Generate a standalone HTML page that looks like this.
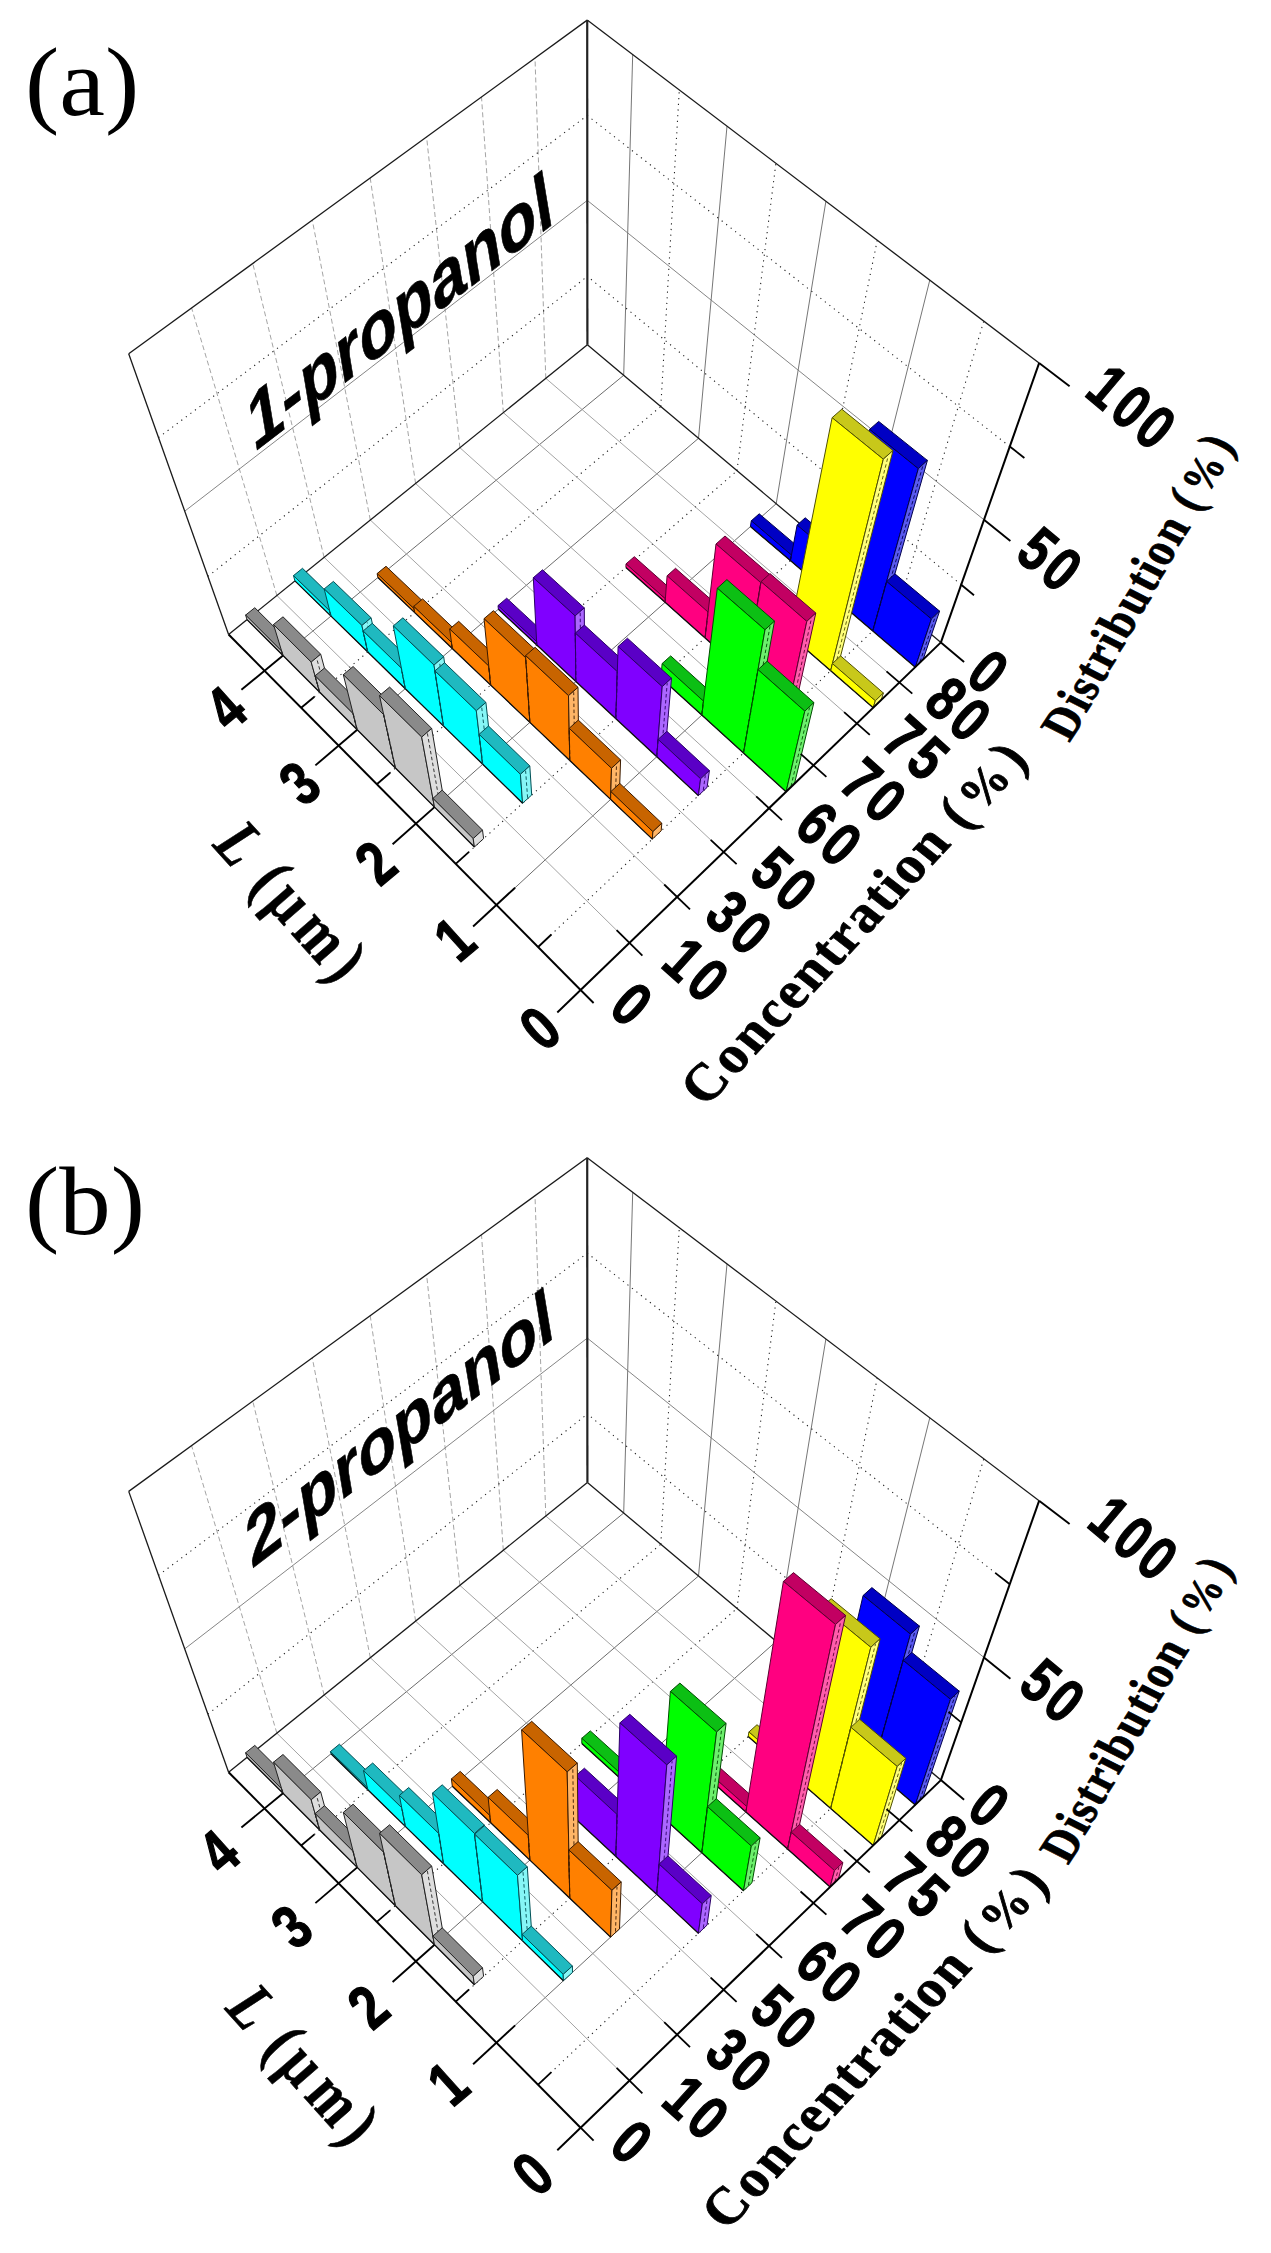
<!DOCTYPE html>
<html><head><meta charset="utf-8"><title>Figure</title>
<style>html,body{margin:0;padding:0;background:#fff}svg{display:block}</style></head>
<body><svg width="1271" height="2253" viewBox="0 0 1271 2253">
<rect width="1271" height="2253" fill="#fff"/>
<line x1="276.9" y1="595.5" x2="191.6" y2="308.0" stroke="#9a9a9a" stroke-width="0.9" stroke-dasharray="5 3"/>
<line x1="324.1" y1="557.3" x2="252.8" y2="263.5" stroke="#9a9a9a" stroke-width="0.9" stroke-dasharray="5 3"/>
<line x1="370.3" y1="520.0" x2="312.3" y2="220.2" stroke="#9a9a9a" stroke-width="0.9" stroke-dasharray="5 3"/>
<line x1="415.6" y1="483.5" x2="370.2" y2="178.0" stroke="#9a9a9a" stroke-width="0.9" stroke-dasharray="5 3"/>
<line x1="459.9" y1="447.7" x2="426.6" y2="137.0" stroke="#9a9a9a" stroke-width="0.9" stroke-dasharray="5 3"/>
<line x1="503.3" y1="412.6" x2="481.5" y2="97.0" stroke="#9a9a9a" stroke-width="0.9" stroke-dasharray="5 3"/>
<line x1="545.8" y1="378.3" x2="535.0" y2="58.0" stroke="#9a9a9a" stroke-width="0.9" stroke-dasharray="5 3"/>
<line x1="207.9" y1="576.4" x2="587.4" y2="276.3" stroke="#222" stroke-width="1.1" stroke-dasharray="1.2 4.5"/>
<line x1="158.5" y1="437.6" x2="587.3" y2="115.5" stroke="#222" stroke-width="1.1" stroke-dasharray="1.2 4.5"/>
<line x1="184.7" y1="511.2" x2="587.3" y2="200.4" stroke="#777" stroke-width="0.9"/>
<line x1="898.5" y1="606.7" x2="983.8" y2="321.1" stroke="#222" stroke-width="1.1" stroke-dasharray="1.2 4.5"/>
<line x1="856.9" y1="571.7" x2="929.8" y2="280.1" stroke="#666" stroke-width="0.9"/>
<line x1="816.1" y1="537.4" x2="877.3" y2="240.2" stroke="#222" stroke-width="1.1" stroke-dasharray="1.2 4.5"/>
<line x1="776.2" y1="503.7" x2="825.9" y2="201.3" stroke="#666" stroke-width="0.9"/>
<line x1="737.0" y1="470.7" x2="775.9" y2="163.3" stroke="#222" stroke-width="1.1" stroke-dasharray="1.2 4.5"/>
<line x1="698.5" y1="438.3" x2="727.0" y2="126.2" stroke="#666" stroke-width="0.9"/>
<line x1="660.8" y1="406.5" x2="679.3" y2="90.0" stroke="#222" stroke-width="1.1" stroke-dasharray="1.2 4.5"/>
<line x1="623.7" y1="375.3" x2="632.7" y2="54.6" stroke="#666" stroke-width="0.9"/>
<line x1="961.2" y1="584.7" x2="587.4" y2="276.3" stroke="#222" stroke-width="1.1" stroke-dasharray="1.2 4.5"/>
<line x1="1009.8" y1="446.5" x2="587.3" y2="115.5" stroke="#222" stroke-width="1.1" stroke-dasharray="1.2 4.5"/>
<line x1="984.0" y1="519.8" x2="587.3" y2="200.4" stroke="#777" stroke-width="0.9"/>
<line x1="538.1" y1="947.0" x2="898.5" y2="606.7" stroke="#222" stroke-width="1.1" stroke-dasharray="1.2 4.5"/>
<line x1="496.4" y1="905.0" x2="856.9" y2="571.7" stroke="#5a5a5a" stroke-width="0.9"/>
<line x1="455.7" y1="863.9" x2="816.1" y2="537.4" stroke="#222" stroke-width="1.1" stroke-dasharray="1.2 4.5"/>
<line x1="415.9" y1="823.6" x2="776.2" y2="503.7" stroke="#5a5a5a" stroke-width="0.9"/>
<line x1="376.8" y1="784.2" x2="737.0" y2="470.7" stroke="#222" stroke-width="1.1" stroke-dasharray="1.2 4.5"/>
<line x1="338.6" y1="745.6" x2="698.5" y2="438.3" stroke="#5a5a5a" stroke-width="0.9"/>
<line x1="301.2" y1="707.8" x2="660.8" y2="406.5" stroke="#222" stroke-width="1.1" stroke-dasharray="1.2 4.5"/>
<line x1="264.5" y1="670.8" x2="623.7" y2="375.3" stroke="#5a5a5a" stroke-width="0.9"/>
<line x1="629.4" y1="942.9" x2="276.9" y2="595.5" stroke="#9a9a9a" stroke-width="0.9"/>
<line x1="677.1" y1="896.9" x2="324.1" y2="557.3" stroke="#9a9a9a" stroke-width="0.9"/>
<line x1="723.6" y1="852.0" x2="370.3" y2="520.0" stroke="#9a9a9a" stroke-width="0.9"/>
<line x1="769.1" y1="808.2" x2="415.6" y2="483.5" stroke="#9a9a9a" stroke-width="0.9"/>
<line x1="813.5" y1="765.3" x2="459.9" y2="447.7" stroke="#9a9a9a" stroke-width="0.9"/>
<line x1="856.9" y1="723.4" x2="503.3" y2="412.6" stroke="#9a9a9a" stroke-width="0.9"/>
<line x1="899.4" y1="682.5" x2="545.8" y2="378.3" stroke="#9a9a9a" stroke-width="0.9"/>
<line x1="228.6" y1="634.5" x2="128.7" y2="353.7" stroke="#1a1a1a" stroke-width="1.3"/>
<line x1="128.7" y1="353.7" x2="587.2" y2="20.1" stroke="#1a1a1a" stroke-width="1.3"/>
<line x1="587.2" y1="20.1" x2="1039.1" y2="363.1" stroke="#1a1a1a" stroke-width="1.3"/>
<line x1="587.4" y1="344.7" x2="587.2" y2="20.1" stroke="#222" stroke-width="2.2"/>
<line x1="228.6" y1="634.5" x2="587.4" y2="344.7" stroke="#1a1a1a" stroke-width="1.3"/>
<line x1="587.4" y1="344.7" x2="940.9" y2="642.4" stroke="#1a1a1a" stroke-width="1.3"/>
<polygon points="751.3,520.8 759.2,513.8 799.4,547.9 791.5,555.1" fill="#0000c4" stroke="#00004c" stroke-width="1.0" stroke-linejoin="round"/>
<polygon points="750.4,526.5 751.3,520.8 791.5,555.1 790.4,560.6" fill="#0000ff" stroke="#00004c" stroke-width="1.0" stroke-linejoin="round"/>
<polygon points="790.4,560.6 791.5,555.1 799.4,547.9 798.3,553.5" fill="#5a5af0" stroke="#00004c" stroke-width="1.0" stroke-linejoin="round"/>
<line x1="750.4" y1="526.5" x2="790.4" y2="560.6" stroke="#111" stroke-width="1.3"/>
<polygon points="797.1,525.1 805.2,517.8 847.4,553.2 839.3,560.7" fill="#0000c4" stroke="#00004c" stroke-width="1.0" stroke-linejoin="round"/>
<polygon points="790.4,560.6 797.1,525.1 839.3,560.7 831.2,595.4" fill="#0000ff" stroke="#00004c" stroke-width="1.0" stroke-linejoin="round"/>
<polygon points="831.2,595.4 839.3,560.7 847.4,553.2 839.1,588.1" fill="#5a5af0" stroke="#00004c" stroke-width="1.0" stroke-linejoin="round"/>
<line x1="835.8" y1="590.3" x2="843.5" y2="557.8" stroke="#00004c" stroke-width="0.9" stroke-dasharray="3.5 2.5"/>
<line x1="790.4" y1="560.6" x2="791.5" y2="555.1" stroke="#00004c" stroke-width="1.1" stroke-dasharray="4 2.5"/>
<line x1="790.4" y1="560.6" x2="831.2" y2="595.4" stroke="#111" stroke-width="1.3"/>
<polygon points="869.6,429.4 878.7,421.4 927.4,460.4 918.3,468.7" fill="#0000c4" stroke="#00004c" stroke-width="1.0" stroke-linejoin="round"/>
<polygon points="831.2,595.4 869.6,429.4 918.3,468.7 872.8,630.9" fill="#0000ff" stroke="#00004c" stroke-width="1.0" stroke-linejoin="round"/>
<polygon points="872.8,630.9 918.3,468.7 927.4,460.4 880.7,623.5" fill="#5a5af0" stroke="#00004c" stroke-width="1.0" stroke-linejoin="round"/>
<line x1="877.5" y1="625.7" x2="922.9" y2="465.6" stroke="#00004c" stroke-width="0.9" stroke-dasharray="3.5 2.5"/>
<line x1="831.2" y1="595.4" x2="839.3" y2="560.7" stroke="#00004c" stroke-width="1.1" stroke-dasharray="4 2.5"/>
<line x1="831.2" y1="595.4" x2="872.8" y2="630.9" stroke="#111" stroke-width="1.3"/>
<polygon points="886.7,581.5 894.9,573.8 939.6,611.1 931.4,619.0" fill="#0000c4" stroke="#00004c" stroke-width="1.0" stroke-linejoin="round"/>
<polygon points="872.8,630.9 886.7,581.5 931.4,619.0 915.3,667.2" fill="#0000ff" stroke="#00004c" stroke-width="1.0" stroke-linejoin="round"/>
<polygon points="915.3,667.2 931.4,619.0 939.6,611.1 923.1,659.5" fill="#5a5af0" stroke="#00004c" stroke-width="1.0" stroke-linejoin="round"/>
<line x1="920.0" y1="661.9" x2="935.5" y2="615.8" stroke="#00004c" stroke-width="0.9" stroke-dasharray="3.5 2.5"/>
<line x1="872.8" y1="630.9" x2="886.7" y2="581.5" stroke="#00004c" stroke-width="1.1" stroke-dasharray="4 2.5"/>
<line x1="872.8" y1="630.9" x2="915.3" y2="667.2" stroke="#111" stroke-width="1.3"/>
<polygon points="832.1,417.7 841.8,409.2 893.0,450.5 883.3,459.2" fill="#c8c81a" stroke="#505000" stroke-width="1.0" stroke-linejoin="round"/>
<polygon points="789.0,634.4 832.1,417.7 883.3,459.2 830.7,670.7" fill="#ffff00" stroke="#505000" stroke-width="1.0" stroke-linejoin="round"/>
<polygon points="830.7,670.7 883.3,459.2 893.0,450.5 838.8,663.1" fill="#ffff7a" stroke="#505000" stroke-width="1.0" stroke-linejoin="round"/>
<line x1="835.4" y1="665.5" x2="888.2" y2="456.0" stroke="#505000" stroke-width="0.9" stroke-dasharray="3.5 2.5"/>
<line x1="789.0" y1="634.4" x2="830.7" y2="670.7" stroke="#111" stroke-width="1.3"/>
<polygon points="832.4,663.6 840.6,655.9 883.4,693.0 875.3,700.8" fill="#c8c81a" stroke="#505000" stroke-width="1.0" stroke-linejoin="round"/>
<polygon points="830.7,670.7 832.4,663.6 875.3,700.8 873.2,707.8" fill="#ffff00" stroke="#505000" stroke-width="1.0" stroke-linejoin="round"/>
<polygon points="873.2,707.8 875.3,700.8 883.4,693.0 881.2,700.0" fill="#ffff7a" stroke="#505000" stroke-width="1.0" stroke-linejoin="round"/>
<line x1="830.7" y1="670.7" x2="873.2" y2="707.8" stroke="#111" stroke-width="1.3"/>
<polygon points="626.0,563.9 634.3,556.7 673.6,591.6 665.4,598.9" fill="#c20062" stroke="#5c0030" stroke-width="1.0" stroke-linejoin="round"/>
<polygon points="625.9,567.4 626.0,563.9 665.4,598.9 665.1,602.3" fill="#ff0080" stroke="#5c0030" stroke-width="1.0" stroke-linejoin="round"/>
<polygon points="665.1,602.3 665.4,598.9 673.6,591.6 673.4,595.0" fill="#ff5cab" stroke="#5c0030" stroke-width="1.0" stroke-linejoin="round"/>
<line x1="625.9" y1="567.4" x2="665.1" y2="602.3" stroke="#111" stroke-width="1.3"/>
<polygon points="667.1,575.8 675.5,568.3 716.6,604.5 708.1,612.1" fill="#c20062" stroke="#5c0030" stroke-width="1.0" stroke-linejoin="round"/>
<polygon points="665.1,602.3 667.1,575.8 708.1,612.1 705.1,637.9" fill="#ff0080" stroke="#5c0030" stroke-width="1.0" stroke-linejoin="round"/>
<polygon points="705.1,637.9 708.1,612.1 716.6,604.5 713.4,630.4" fill="#ff5cab" stroke="#5c0030" stroke-width="1.0" stroke-linejoin="round"/>
<line x1="709.8" y1="632.7" x2="712.6" y2="609.0" stroke="#5c0030" stroke-width="0.9" stroke-dasharray="3.5 2.5"/>
<line x1="665.1" y1="602.3" x2="665.4" y2="598.9" stroke="#5c0030" stroke-width="1.1" stroke-dasharray="4 2.5"/>
<line x1="665.1" y1="602.3" x2="705.1" y2="637.9" stroke="#111" stroke-width="1.3"/>
<polygon points="716.0,544.0 725.0,536.0 769.8,574.6 760.8,582.7" fill="#c20062" stroke="#5c0030" stroke-width="1.0" stroke-linejoin="round"/>
<polygon points="705.1,637.9 716.0,544.0 760.8,582.7 745.9,674.3" fill="#ff0080" stroke="#5c0030" stroke-width="1.0" stroke-linejoin="round"/>
<polygon points="745.9,674.3 760.8,582.7 769.8,574.6 754.2,666.7" fill="#ff5cab" stroke="#5c0030" stroke-width="1.0" stroke-linejoin="round"/>
<line x1="750.7" y1="669.0" x2="765.5" y2="579.5" stroke="#5c0030" stroke-width="0.9" stroke-dasharray="3.5 2.5"/>
<line x1="705.1" y1="637.9" x2="708.1" y2="612.1" stroke="#5c0030" stroke-width="1.1" stroke-dasharray="4 2.5"/>
<line x1="705.1" y1="637.9" x2="745.9" y2="674.3" stroke="#111" stroke-width="1.3"/>
<polygon points="761.0,581.7 770.0,573.6 815.8,613.0 806.8,621.4" fill="#c20062" stroke="#5c0030" stroke-width="1.0" stroke-linejoin="round"/>
<polygon points="745.9,674.3 761.0,581.7 806.8,621.4 787.6,711.4" fill="#ff0080" stroke="#5c0030" stroke-width="1.0" stroke-linejoin="round"/>
<polygon points="787.6,711.4 806.8,621.4 815.8,613.0 795.9,703.6" fill="#ff5cab" stroke="#5c0030" stroke-width="1.0" stroke-linejoin="round"/>
<line x1="792.4" y1="706.1" x2="811.5" y2="618.0" stroke="#5c0030" stroke-width="0.9" stroke-dasharray="3.5 2.5"/>
<line x1="745.9" y1="674.3" x2="760.8" y2="582.7" stroke="#5c0030" stroke-width="1.1" stroke-dasharray="4 2.5"/>
<line x1="745.9" y1="674.3" x2="787.6" y2="711.4" stroke="#111" stroke-width="1.3"/>
<polygon points="662.1,663.6 670.7,655.9 712.1,693.3 703.5,701.2" fill="#0cbf14" stroke="#004c00" stroke-width="1.0" stroke-linejoin="round"/>
<polygon points="661.0,677.9 662.1,663.6 703.5,701.2 701.8,715.1" fill="#00ff00" stroke="#004c00" stroke-width="1.0" stroke-linejoin="round"/>
<polygon points="701.8,715.1 703.5,701.2 712.1,693.3 710.3,707.2" fill="#6cf06c" stroke="#004c00" stroke-width="1.0" stroke-linejoin="round"/>
<line x1="706.6" y1="709.7" x2="708.1" y2="697.9" stroke="#004c00" stroke-width="0.9" stroke-dasharray="3.5 2.5"/>
<line x1="661.0" y1="677.9" x2="701.8" y2="715.1" stroke="#111" stroke-width="1.3"/>
<polygon points="717.3,588.2 726.9,579.6 774.5,621.1 765.0,629.8" fill="#0cbf14" stroke="#004c00" stroke-width="1.0" stroke-linejoin="round"/>
<polygon points="701.8,715.1 717.3,588.2 765.0,629.8 743.5,753.0" fill="#00ff00" stroke="#004c00" stroke-width="1.0" stroke-linejoin="round"/>
<polygon points="743.5,753.0 765.0,629.8 774.5,621.1 752.0,745.0" fill="#6cf06c" stroke="#004c00" stroke-width="1.0" stroke-linejoin="round"/>
<line x1="748.4" y1="747.6" x2="770.0" y2="626.3" stroke="#004c00" stroke-width="0.9" stroke-dasharray="3.5 2.5"/>
<line x1="701.8" y1="715.1" x2="703.5" y2="701.2" stroke="#004c00" stroke-width="1.1" stroke-dasharray="4 2.5"/>
<line x1="701.8" y1="715.1" x2="743.5" y2="753.0" stroke="#111" stroke-width="1.3"/>
<polygon points="758.0,669.7 767.2,661.2 813.9,702.5 804.8,711.2" fill="#0cbf14" stroke="#004c00" stroke-width="1.0" stroke-linejoin="round"/>
<polygon points="743.5,753.0 758.0,669.7 804.8,711.2 786.1,791.8" fill="#00ff00" stroke="#004c00" stroke-width="1.0" stroke-linejoin="round"/>
<polygon points="786.1,791.8 804.8,711.2 813.9,702.5 794.5,783.6" fill="#6cf06c" stroke="#004c00" stroke-width="1.0" stroke-linejoin="round"/>
<line x1="791.0" y1="786.3" x2="809.5" y2="707.6" stroke="#004c00" stroke-width="0.9" stroke-dasharray="3.5 2.5"/>
<line x1="743.5" y1="753.0" x2="758.0" y2="669.7" stroke="#004c00" stroke-width="1.1" stroke-dasharray="4 2.5"/>
<line x1="743.5" y1="753.0" x2="786.1" y2="791.8" stroke="#111" stroke-width="1.3"/>
<polygon points="498.0,605.6 506.7,598.2 545.2,633.9 536.6,641.5" fill="#5a00c6" stroke="#2a0066" stroke-width="1.0" stroke-linejoin="round"/>
<polygon points="498.4,609.2 498.0,605.6 536.6,641.5 536.8,645.0" fill="#8000ff" stroke="#2a0066" stroke-width="1.0" stroke-linejoin="round"/>
<polygon points="536.8,645.0 536.6,641.5 545.2,633.9 545.4,637.4" fill="#ab66ff" stroke="#2a0066" stroke-width="1.0" stroke-linejoin="round"/>
<line x1="498.4" y1="609.2" x2="536.8" y2="645.0" stroke="#111" stroke-width="1.3"/>
<polygon points="533.3,577.7 542.5,569.8 584.3,607.9 575.1,615.9" fill="#5a00c6" stroke="#2a0066" stroke-width="1.0" stroke-linejoin="round"/>
<polygon points="536.8,645.0 533.3,577.7 575.1,615.9 575.9,681.5" fill="#8000ff" stroke="#2a0066" stroke-width="1.0" stroke-linejoin="round"/>
<polygon points="575.9,681.5 575.1,615.9 584.3,607.9 584.6,673.8" fill="#ab66ff" stroke="#2a0066" stroke-width="1.0" stroke-linejoin="round"/>
<line x1="580.7" y1="676.2" x2="580.2" y2="612.7" stroke="#2a0066" stroke-width="0.9" stroke-dasharray="3.5 2.5"/>
<line x1="536.8" y1="645.0" x2="536.6" y2="641.5" stroke="#2a0066" stroke-width="1.1" stroke-dasharray="4 2.5"/>
<line x1="536.8" y1="645.0" x2="575.9" y2="681.5" stroke="#111" stroke-width="1.3"/>
<polygon points="575.3,633.1 584.4,625.1 626.4,663.6 617.3,671.7" fill="#5a00c6" stroke="#2a0066" stroke-width="1.0" stroke-linejoin="round"/>
<polygon points="575.9,681.5 575.3,633.1 617.3,671.7 615.9,718.7" fill="#8000ff" stroke="#2a0066" stroke-width="1.0" stroke-linejoin="round"/>
<polygon points="615.9,718.7 617.3,671.7 626.4,663.6 624.6,710.9" fill="#ab66ff" stroke="#2a0066" stroke-width="1.0" stroke-linejoin="round"/>
<line x1="620.7" y1="713.4" x2="622.3" y2="668.4" stroke="#2a0066" stroke-width="0.9" stroke-dasharray="3.5 2.5"/>
<line x1="575.9" y1="681.5" x2="575.3" y2="633.1" stroke="#2a0066" stroke-width="1.1" stroke-dasharray="4 2.5"/>
<line x1="575.9" y1="681.5" x2="615.9" y2="718.7" stroke="#111" stroke-width="1.3"/>
<polygon points="618.1,646.5 627.4,638.2 671.5,678.2 662.2,686.7" fill="#5a00c6" stroke="#2a0066" stroke-width="1.0" stroke-linejoin="round"/>
<polygon points="615.9,718.7 618.1,646.5 662.2,686.7 656.8,756.7" fill="#8000ff" stroke="#2a0066" stroke-width="1.0" stroke-linejoin="round"/>
<polygon points="656.8,756.7 662.2,686.7 671.5,678.2 665.4,748.8" fill="#ab66ff" stroke="#2a0066" stroke-width="1.0" stroke-linejoin="round"/>
<line x1="661.6" y1="751.3" x2="667.2" y2="683.2" stroke="#2a0066" stroke-width="0.9" stroke-dasharray="3.5 2.5"/>
<line x1="615.9" y1="718.7" x2="617.3" y2="671.7" stroke="#2a0066" stroke-width="1.1" stroke-dasharray="4 2.5"/>
<line x1="615.9" y1="718.7" x2="656.8" y2="756.7" stroke="#111" stroke-width="1.3"/>
<polygon points="658.1,739.4 666.9,731.3 709.4,770.6 700.6,778.8" fill="#5a00c6" stroke="#2a0066" stroke-width="1.0" stroke-linejoin="round"/>
<polygon points="656.8,756.7 658.1,739.4 700.6,778.8 698.4,795.6" fill="#8000ff" stroke="#2a0066" stroke-width="1.0" stroke-linejoin="round"/>
<polygon points="698.4,795.6 700.6,778.8 709.4,770.6 707.1,787.4" fill="#ab66ff" stroke="#2a0066" stroke-width="1.0" stroke-linejoin="round"/>
<line x1="703.3" y1="790.1" x2="705.3" y2="775.3" stroke="#2a0066" stroke-width="0.9" stroke-dasharray="3.5 2.5"/>
<line x1="656.8" y1="756.7" x2="658.1" y2="739.4" stroke="#2a0066" stroke-width="1.1" stroke-dasharray="4 2.5"/>
<line x1="656.8" y1="756.7" x2="698.4" y2="795.6" stroke="#111" stroke-width="1.3"/>
<polygon points="377.1,573.6 386.0,566.3 423.0,601.4 414.1,608.8" fill="#c86400" stroke="#3a1a00" stroke-width="1.0" stroke-linejoin="round"/>
<polygon points="377.9,577.5 377.1,573.6 414.1,608.8 414.7,612.6" fill="#ff8000" stroke="#3a1a00" stroke-width="1.0" stroke-linejoin="round"/>
<polygon points="414.7,612.6 414.1,608.8 423.0,601.4 423.6,605.3" fill="#ffb566" stroke="#3a1a00" stroke-width="1.0" stroke-linejoin="round"/>
<line x1="377.9" y1="577.5" x2="414.7" y2="612.6" stroke="#111" stroke-width="1.3"/>
<polygon points="413.7,606.4 422.6,598.9 460.4,634.8 451.5,642.4" fill="#c86400" stroke="#3a1a00" stroke-width="1.0" stroke-linejoin="round"/>
<polygon points="414.7,612.6 413.7,606.4 451.5,642.4 452.3,648.5" fill="#ff8000" stroke="#3a1a00" stroke-width="1.0" stroke-linejoin="round"/>
<polygon points="452.3,648.5 451.5,642.4 460.4,634.8 461.2,640.9" fill="#ffb566" stroke="#3a1a00" stroke-width="1.0" stroke-linejoin="round"/>
<line x1="414.7" y1="612.6" x2="452.3" y2="648.5" stroke="#111" stroke-width="1.3"/>
<polygon points="449.7,629.0 458.7,621.3 497.8,658.3 488.8,666.1" fill="#c86400" stroke="#3a1a00" stroke-width="1.0" stroke-linejoin="round"/>
<polygon points="452.3,648.5 449.7,629.0 488.8,666.1 490.7,685.1" fill="#ff8000" stroke="#3a1a00" stroke-width="1.0" stroke-linejoin="round"/>
<polygon points="490.7,685.1 488.8,666.1 497.8,658.3 499.5,677.4" fill="#ffb566" stroke="#3a1a00" stroke-width="1.0" stroke-linejoin="round"/>
<line x1="495.5" y1="679.8" x2="493.8" y2="662.9" stroke="#3a1a00" stroke-width="0.9" stroke-dasharray="3.5 2.5"/>
<line x1="452.3" y1="648.5" x2="451.5" y2="642.4" stroke="#3a1a00" stroke-width="1.1" stroke-dasharray="4 2.5"/>
<line x1="452.3" y1="648.5" x2="490.7" y2="685.1" stroke="#111" stroke-width="1.3"/>
<polygon points="484.0,618.7 493.4,610.7 535.2,649.7 525.8,657.9" fill="#c86400" stroke="#3a1a00" stroke-width="1.0" stroke-linejoin="round"/>
<polygon points="490.7,685.1 484.0,618.7 525.8,657.9 529.9,722.4" fill="#ff8000" stroke="#3a1a00" stroke-width="1.0" stroke-linejoin="round"/>
<polygon points="529.9,722.4 525.8,657.9 535.2,649.7 538.7,714.5" fill="#ffb566" stroke="#3a1a00" stroke-width="1.0" stroke-linejoin="round"/>
<line x1="534.7" y1="717.0" x2="531.1" y2="654.6" stroke="#3a1a00" stroke-width="0.9" stroke-dasharray="3.5 2.5"/>
<line x1="490.7" y1="685.1" x2="488.8" y2="666.1" stroke="#3a1a00" stroke-width="1.1" stroke-dasharray="4 2.5"/>
<line x1="490.7" y1="685.1" x2="529.9" y2="722.4" stroke="#111" stroke-width="1.3"/>
<polygon points="525.6,655.6 535.1,647.3 578.0,687.3 568.5,695.7" fill="#c86400" stroke="#3a1a00" stroke-width="1.0" stroke-linejoin="round"/>
<polygon points="529.9,722.4 525.6,655.6 568.5,695.7 569.8,760.5" fill="#ff8000" stroke="#3a1a00" stroke-width="1.0" stroke-linejoin="round"/>
<polygon points="569.8,760.5 568.5,695.7 578.0,687.3 578.7,752.5" fill="#ffb566" stroke="#3a1a00" stroke-width="1.0" stroke-linejoin="round"/>
<line x1="574.7" y1="755.1" x2="573.7" y2="692.2" stroke="#3a1a00" stroke-width="0.9" stroke-dasharray="3.5 2.5"/>
<line x1="529.9" y1="722.4" x2="525.8" y2="657.9" stroke="#3a1a00" stroke-width="1.1" stroke-dasharray="4 2.5"/>
<line x1="529.9" y1="722.4" x2="569.8" y2="760.5" stroke="#111" stroke-width="1.3"/>
<polygon points="569.2,728.3 578.3,720.1 620.6,759.9 611.5,768.3" fill="#c86400" stroke="#3a1a00" stroke-width="1.0" stroke-linejoin="round"/>
<polygon points="569.8,760.5 569.2,728.3 611.5,768.3 610.6,799.4" fill="#ff8000" stroke="#3a1a00" stroke-width="1.0" stroke-linejoin="round"/>
<polygon points="610.6,799.4 611.5,768.3 620.6,759.9 619.5,791.2" fill="#ffb566" stroke="#3a1a00" stroke-width="1.0" stroke-linejoin="round"/>
<line x1="615.5" y1="793.9" x2="616.5" y2="764.7" stroke="#3a1a00" stroke-width="0.9" stroke-dasharray="3.5 2.5"/>
<line x1="569.8" y1="760.5" x2="569.2" y2="728.3" stroke="#3a1a00" stroke-width="1.1" stroke-dasharray="4 2.5"/>
<line x1="569.8" y1="760.5" x2="610.6" y2="799.4" stroke="#111" stroke-width="1.3"/>
<polygon points="610.8,791.6 619.8,783.4 661.8,823.2 652.9,831.7" fill="#c86400" stroke="#3a1a00" stroke-width="1.0" stroke-linejoin="round"/>
<polygon points="610.6,799.4 610.8,791.6 652.9,831.7 652.3,839.1" fill="#ff8000" stroke="#3a1a00" stroke-width="1.0" stroke-linejoin="round"/>
<polygon points="652.3,839.1 652.9,831.7 661.8,823.2 661.2,830.8" fill="#ffb566" stroke="#3a1a00" stroke-width="1.0" stroke-linejoin="round"/>
<line x1="610.6" y1="799.4" x2="652.3" y2="839.1" stroke="#111" stroke-width="1.3"/>
<polygon points="293.5,575.6 302.5,568.3 338.7,603.5 329.7,610.9" fill="#1fb9c0" stroke="#004f55" stroke-width="1.0" stroke-linejoin="round"/>
<polygon points="294.9,580.9 293.5,575.6 329.7,610.9 331.0,616.1" fill="#00ffff" stroke="#004f55" stroke-width="1.0" stroke-linejoin="round"/>
<polygon points="331.0,616.1 329.7,610.9 338.7,603.5 340.0,608.7" fill="#86f6f6" stroke="#004f55" stroke-width="1.0" stroke-linejoin="round"/>
<line x1="294.9" y1="580.9" x2="331.0" y2="616.1" stroke="#111" stroke-width="1.3"/>
<polygon points="324.2,588.9 333.4,581.4 371.1,617.8 361.9,625.5" fill="#1fb9c0" stroke="#004f55" stroke-width="1.0" stroke-linejoin="round"/>
<polygon points="331.0,616.1 324.2,588.9 361.9,625.5 367.8,652.0" fill="#00ffff" stroke="#004f55" stroke-width="1.0" stroke-linejoin="round"/>
<polygon points="367.8,652.0 361.9,625.5 371.1,617.8 376.8,644.5" fill="#86f6f6" stroke="#004f55" stroke-width="1.0" stroke-linejoin="round"/>
<line x1="372.5" y1="646.8" x2="367.2" y2="622.4" stroke="#004f55" stroke-width="0.9" stroke-dasharray="3.5 2.5"/>
<line x1="331.0" y1="616.1" x2="329.7" y2="610.9" stroke="#004f55" stroke-width="1.1" stroke-dasharray="4 2.5"/>
<line x1="331.0" y1="616.1" x2="367.8" y2="652.0" stroke="#111" stroke-width="1.3"/>
<polygon points="363.1,631.0 372.3,623.3 410.6,660.3 401.4,668.2" fill="#1fb9c0" stroke="#004f55" stroke-width="1.0" stroke-linejoin="round"/>
<polygon points="367.8,652.0 363.1,631.0 401.4,668.2 405.3,688.7" fill="#00ffff" stroke="#004f55" stroke-width="1.0" stroke-linejoin="round"/>
<polygon points="405.3,688.7 401.4,668.2 410.6,660.3 414.3,681.0" fill="#86f6f6" stroke="#004f55" stroke-width="1.0" stroke-linejoin="round"/>
<line x1="410.1" y1="683.4" x2="406.7" y2="665.0" stroke="#004f55" stroke-width="0.9" stroke-dasharray="3.5 2.5"/>
<line x1="367.8" y1="652.0" x2="363.1" y2="631.0" stroke="#004f55" stroke-width="1.1" stroke-dasharray="4 2.5"/>
<line x1="367.8" y1="652.0" x2="405.3" y2="688.7" stroke="#111" stroke-width="1.3"/>
<polygon points="393.3,625.9 402.9,617.8 443.7,656.8 434.0,665.1" fill="#1fb9c0" stroke="#004f55" stroke-width="1.0" stroke-linejoin="round"/>
<polygon points="405.3,688.7 393.3,625.9 434.0,665.1 443.6,726.1" fill="#00ffff" stroke="#004f55" stroke-width="1.0" stroke-linejoin="round"/>
<polygon points="443.6,726.1 434.0,665.1 443.7,656.8 452.6,718.2" fill="#86f6f6" stroke="#004f55" stroke-width="1.0" stroke-linejoin="round"/>
<line x1="448.4" y1="720.7" x2="439.5" y2="661.7" stroke="#004f55" stroke-width="0.9" stroke-dasharray="3.5 2.5"/>
<line x1="405.3" y1="688.7" x2="401.4" y2="668.2" stroke="#004f55" stroke-width="1.1" stroke-dasharray="4 2.5"/>
<line x1="405.3" y1="688.7" x2="443.6" y2="726.1" stroke="#111" stroke-width="1.3"/>
<polygon points="434.9,670.9 444.5,662.7 485.9,702.4 476.3,710.8" fill="#1fb9c0" stroke="#004f55" stroke-width="1.0" stroke-linejoin="round"/>
<polygon points="443.6,726.1 434.9,670.9 476.3,710.8 482.7,764.2" fill="#00ffff" stroke="#004f55" stroke-width="1.0" stroke-linejoin="round"/>
<polygon points="482.7,764.2 476.3,710.8 485.9,702.4 491.8,756.2" fill="#86f6f6" stroke="#004f55" stroke-width="1.0" stroke-linejoin="round"/>
<line x1="487.6" y1="758.8" x2="481.7" y2="707.3" stroke="#004f55" stroke-width="0.9" stroke-dasharray="3.5 2.5"/>
<line x1="443.6" y1="726.1" x2="434.9" y2="670.9" stroke="#004f55" stroke-width="1.1" stroke-dasharray="4 2.5"/>
<line x1="443.6" y1="726.1" x2="482.7" y2="764.2" stroke="#111" stroke-width="1.3"/>
<polygon points="479.1,734.3 488.5,726.0 529.8,765.9 520.4,774.3" fill="#1fb9c0" stroke="#004f55" stroke-width="1.0" stroke-linejoin="round"/>
<polygon points="482.7,764.2 479.1,734.3 520.4,774.3 522.6,803.2" fill="#00ffff" stroke="#004f55" stroke-width="1.0" stroke-linejoin="round"/>
<polygon points="522.6,803.2 520.4,774.3 529.8,765.9 531.7,795.0" fill="#86f6f6" stroke="#004f55" stroke-width="1.0" stroke-linejoin="round"/>
<line x1="527.6" y1="797.8" x2="525.6" y2="770.7" stroke="#004f55" stroke-width="0.9" stroke-dasharray="3.5 2.5"/>
<line x1="482.7" y1="764.2" x2="479.1" y2="734.3" stroke="#004f55" stroke-width="1.1" stroke-dasharray="4 2.5"/>
<line x1="482.7" y1="764.2" x2="522.6" y2="803.2" stroke="#111" stroke-width="1.3"/>
<polygon points="245.6,615.1 254.8,607.7 290.9,643.6 281.7,651.2" fill="#8a8a8a" stroke="#222222" stroke-width="1.0" stroke-linejoin="round"/>
<polygon points="247.0,619.6 245.6,615.1 281.7,651.2 283.0,655.5" fill="#c6c6c6" stroke="#222222" stroke-width="1.0" stroke-linejoin="round"/>
<polygon points="283.0,655.5 281.7,651.2 290.9,643.6 292.2,648.0" fill="#dedede" stroke="#222222" stroke-width="1.0" stroke-linejoin="round"/>
<line x1="247.0" y1="619.6" x2="283.0" y2="655.5" stroke="#111" stroke-width="1.3"/>
<polygon points="273.5,624.5 283.0,616.8 320.7,654.2 311.2,662.1" fill="#8a8a8a" stroke="#222222" stroke-width="1.0" stroke-linejoin="round"/>
<polygon points="283.0,655.5 273.5,624.5 311.2,662.1 319.7,692.3" fill="#c6c6c6" stroke="#222222" stroke-width="1.0" stroke-linejoin="round"/>
<polygon points="319.7,692.3 311.2,662.1 320.7,654.2 328.9,684.5" fill="#dedede" stroke="#222222" stroke-width="1.0" stroke-linejoin="round"/>
<line x1="324.5" y1="687.0" x2="316.8" y2="658.8" stroke="#222222" stroke-width="0.9" stroke-dasharray="3.5 2.5"/>
<line x1="283.0" y1="655.5" x2="281.7" y2="651.2" stroke="#222222" stroke-width="1.1" stroke-dasharray="4 2.5"/>
<line x1="283.0" y1="655.5" x2="319.7" y2="692.3" stroke="#111" stroke-width="1.3"/>
<polygon points="315.1,675.8 324.5,668.0 362.5,705.7 353.1,713.7" fill="#8a8a8a" stroke="#222222" stroke-width="1.0" stroke-linejoin="round"/>
<polygon points="319.7,692.3 315.1,675.8 353.1,713.7 357.2,729.7" fill="#c6c6c6" stroke="#222222" stroke-width="1.0" stroke-linejoin="round"/>
<polygon points="357.2,729.7 353.1,713.7 362.5,705.7 366.4,721.9" fill="#dedede" stroke="#222222" stroke-width="1.0" stroke-linejoin="round"/>
<line x1="362.0" y1="724.4" x2="358.6" y2="710.4" stroke="#222222" stroke-width="0.9" stroke-dasharray="3.5 2.5"/>
<line x1="319.7" y1="692.3" x2="315.1" y2="675.8" stroke="#222222" stroke-width="1.1" stroke-dasharray="4 2.5"/>
<line x1="319.7" y1="692.3" x2="357.2" y2="729.7" stroke="#111" stroke-width="1.3"/>
<polygon points="343.3,674.7 353.1,666.5 393.5,706.3 383.7,714.7" fill="#8a8a8a" stroke="#222222" stroke-width="1.0" stroke-linejoin="round"/>
<polygon points="357.2,729.7 343.3,674.7 383.7,714.7 395.4,768.0" fill="#c6c6c6" stroke="#222222" stroke-width="1.0" stroke-linejoin="round"/>
<polygon points="395.4,768.0 383.7,714.7 393.5,706.3 404.7,760.0" fill="#dedede" stroke="#222222" stroke-width="1.0" stroke-linejoin="round"/>
<line x1="400.3" y1="762.6" x2="389.4" y2="711.2" stroke="#222222" stroke-width="0.9" stroke-dasharray="3.5 2.5"/>
<line x1="357.2" y1="729.7" x2="353.1" y2="713.7" stroke="#222222" stroke-width="1.1" stroke-dasharray="4 2.5"/>
<line x1="357.2" y1="729.7" x2="395.4" y2="768.0" stroke="#111" stroke-width="1.3"/>
<polygon points="379.5,695.6 389.6,687.1 431.7,728.4 421.7,737.1" fill="#8a8a8a" stroke="#222222" stroke-width="1.0" stroke-linejoin="round"/>
<polygon points="395.4,768.0 379.5,695.6 421.7,737.1 434.5,807.1" fill="#c6c6c6" stroke="#222222" stroke-width="1.0" stroke-linejoin="round"/>
<polygon points="434.5,807.1 421.7,737.1 431.7,728.4 443.7,798.9" fill="#dedede" stroke="#222222" stroke-width="1.0" stroke-linejoin="round"/>
<line x1="439.4" y1="801.6" x2="427.4" y2="733.4" stroke="#222222" stroke-width="0.9" stroke-dasharray="3.5 2.5"/>
<line x1="395.4" y1="768.0" x2="383.7" y2="714.7" stroke="#222222" stroke-width="1.1" stroke-dasharray="4 2.5"/>
<line x1="395.4" y1="768.0" x2="434.5" y2="807.1" stroke="#111" stroke-width="1.3"/>
<polygon points="432.9,798.4 442.2,790.1 482.5,830.1 473.2,838.6" fill="#8a8a8a" stroke="#222222" stroke-width="1.0" stroke-linejoin="round"/>
<polygon points="434.5,807.1 432.9,798.4 473.2,838.6 474.4,847.0" fill="#c6c6c6" stroke="#222222" stroke-width="1.0" stroke-linejoin="round"/>
<polygon points="474.4,847.0 473.2,838.6 482.5,830.1 483.6,838.6" fill="#dedede" stroke="#222222" stroke-width="1.0" stroke-linejoin="round"/>
<line x1="434.5" y1="807.1" x2="474.4" y2="847.0" stroke="#111" stroke-width="1.3"/>
<line x1="580.6" y1="990.0" x2="228.6" y2="634.5" stroke="#000" stroke-width="2.0"/>
<line x1="580.6" y1="990.0" x2="940.9" y2="642.4" stroke="#000" stroke-width="2.0"/>
<line x1="940.9" y1="642.4" x2="1039.1" y2="363.1" stroke="#000" stroke-width="2.0"/>
<line x1="557.3" y1="1012.5" x2="580.6" y2="990.0" stroke="#000" stroke-width="1.9"/>
<line x1="473.1" y1="926.5" x2="515.1" y2="887.7" stroke="#000" stroke-width="1.9"/>
<line x1="392.6" y1="844.3" x2="434.5" y2="807.1" stroke="#000" stroke-width="1.9"/>
<line x1="315.4" y1="765.4" x2="357.2" y2="729.7" stroke="#000" stroke-width="1.9"/>
<line x1="241.4" y1="689.8" x2="283.0" y2="655.5" stroke="#000" stroke-width="1.9"/>
<line x1="538.1" y1="947.0" x2="551.4" y2="934.5" stroke="#000" stroke-width="1.8"/>
<line x1="455.7" y1="863.9" x2="469.0" y2="851.8" stroke="#000" stroke-width="1.8"/>
<line x1="376.8" y1="784.2" x2="390.1" y2="772.7" stroke="#000" stroke-width="1.8"/>
<line x1="301.2" y1="707.8" x2="314.4" y2="696.7" stroke="#000" stroke-width="1.8"/>
<line x1="593.6" y1="1003.0" x2="580.6" y2="990.0" stroke="#000" stroke-width="1.8"/>
<line x1="642.4" y1="955.6" x2="616.6" y2="930.2" stroke="#000" stroke-width="1.8"/>
<line x1="690.0" y1="909.4" x2="664.2" y2="884.5" stroke="#000" stroke-width="1.8"/>
<line x1="736.6" y1="864.2" x2="710.7" y2="839.9" stroke="#000" stroke-width="1.8"/>
<line x1="782.0" y1="820.1" x2="756.2" y2="796.4" stroke="#000" stroke-width="1.8"/>
<line x1="826.4" y1="776.9" x2="800.6" y2="753.8" stroke="#000" stroke-width="1.8"/>
<line x1="869.8" y1="734.8" x2="844.1" y2="712.1" stroke="#000" stroke-width="1.8"/>
<line x1="912.3" y1="693.6" x2="886.5" y2="671.4" stroke="#000" stroke-width="1.8"/>
<line x1="940.9" y1="642.4" x2="964.1" y2="662.0" stroke="#000" stroke-width="1.9"/>
<line x1="984.0" y1="519.8" x2="1010.4" y2="541.1" stroke="#000" stroke-width="1.9"/>
<line x1="1039.1" y1="363.1" x2="1069.6" y2="386.2" stroke="#000" stroke-width="1.9"/>
<line x1="961.2" y1="584.7" x2="974.0" y2="595.2" stroke="#000" stroke-width="1.8"/>
<line x1="1009.8" y1="446.5" x2="1024.4" y2="458.0" stroke="#000" stroke-width="1.8"/>
<text transform="matrix(0.7507 -0.6299 0.8364 0.9289 233.9 729.9)" font-family='"Liberation Sans", sans-serif' font-size="50" font-weight="bold" stroke="#000" stroke-width="1.0" x="-5.4" y="-0.0">4</text>
<text transform="matrix(0.7507 -0.6299 0.8364 0.9289 307.8 804.5)" font-family='"Liberation Sans", sans-serif' font-size="50" font-weight="bold" stroke="#000" stroke-width="1.0" x="-5.4" y="-0.0">3</text>
<text transform="matrix(0.7507 -0.6299 0.8364 0.9289 383.9 884.0)" font-family='"Liberation Sans", sans-serif' font-size="50" font-weight="bold" stroke="#000" stroke-width="1.0" x="-5.4" y="-0.0">2</text>
<text transform="matrix(0.7507 -0.6299 0.8364 0.9289 462.6 960.7)" font-family='"Liberation Sans", sans-serif' font-size="50" font-weight="bold" stroke="#000" stroke-width="1.0" x="-5.4" y="-0.0">1</text>
<text transform="matrix(0.7507 -0.6299 0.8364 0.9289 548.0 1049.7)" font-family='"Liberation Sans", sans-serif' font-size="50" font-weight="bold" stroke="#000" stroke-width="1.0" x="-5.4" y="-0.0">0</text>
<text transform="matrix(0.7283 0.6557 -0.8364 0.9289 605.2 1009.5)" font-family='"Liberation Sans", sans-serif' font-size="50" font-weight="bold" stroke="#000" stroke-width="1.0" x="2.4" y="-0.0">0</text>
<text transform="matrix(0.7283 0.6557 -0.8364 0.9289 657.5 964.4)" font-family='"Liberation Sans", sans-serif' font-size="50" font-weight="bold" stroke="#000" stroke-width="1.0" x="2.4 35.1" y="-0.0 -0.5">10</text>
<text transform="matrix(0.7283 0.6557 -0.8364 0.9289 700.5 917.2)" font-family='"Liberation Sans", sans-serif' font-size="50" font-weight="bold" stroke="#000" stroke-width="1.0" x="2.4 35.1" y="-0.0 -0.5">30</text>
<text transform="matrix(0.7283 0.6557 -0.8364 0.9289 745.5 874.2)" font-family='"Liberation Sans", sans-serif' font-size="50" font-weight="bold" stroke="#000" stroke-width="1.0" x="2.4 35.1" y="-0.0 -0.5">50</text>
<text transform="matrix(0.7283 0.6557 -0.8364 0.9289 790.5 828.6)" font-family='"Liberation Sans", sans-serif' font-size="50" font-weight="bold" stroke="#000" stroke-width="1.0" x="2.4 35.1" y="-0.0 -0.5">60</text>
<text transform="matrix(0.7283 0.6557 -0.8364 0.9289 835.0 785.2)" font-family='"Liberation Sans", sans-serif' font-size="50" font-weight="bold" stroke="#000" stroke-width="1.0" x="2.4 35.1" y="-0.0 -0.5">70</text>
<text transform="matrix(0.7283 0.6557 -0.8364 0.9289 877.5 742.8)" font-family='"Liberation Sans", sans-serif' font-size="50" font-weight="bold" stroke="#000" stroke-width="1.0" x="2.4 35.1" y="-0.0 -0.5">75</text>
<text transform="matrix(0.7283 0.6557 -0.8364 0.9289 919.9 704.0)" font-family='"Liberation Sans", sans-serif' font-size="50" font-weight="bold" stroke="#000" stroke-width="1.0" x="2.4 35.1" y="-0.0 -0.5">80</text>
<text transform="matrix(0.7507 0.6299 -0.8035 0.9576 962.1 678.1)" font-family='"Liberation Sans", sans-serif' font-size="50" font-weight="bold" stroke="#000" stroke-width="1.0" x="2.2" y="-0.0">0</text>
<text transform="matrix(0.7507 0.6299 -0.8035 0.9576 1011.8 555.5)" font-family='"Liberation Sans", sans-serif' font-size="50" font-weight="bold" stroke="#000" stroke-width="1.0" x="2.2 34.3" y="-0.0 -0.0">50</text>
<text transform="matrix(0.7507 0.6299 -0.8035 0.9576 1081.4 393.1)" font-family='"Liberation Sans", sans-serif' font-size="50" font-weight="bold" stroke="#000" stroke-width="1.0" x="2.2 34.3 66.5" y="-0.0 -0.0 -0.0">100</text>
<text transform="matrix(0.6036 0.6703 -0.8453 0.7348 209.0 842.8)" font-family='"Liberation Serif", serif' font-size="60" font-weight="bold" stroke="#000" stroke-width="0.5" x="4.0 46.3 65.2 91.1 134.3 192.0" y="0.0 -0.0 0.0 -0.0 0.0 0.0"><tspan font-style="italic">L</tspan> (μm)</text>
<text transform="matrix(0.6180 -0.6628 0.7250 0.5664 704.6 1109.6)" font-family='"Liberation Serif", serif' font-size="60" font-weight="bold" stroke="#000" stroke-width="0.9" x="1.9 48.4 81.2 117.1 146.1 175.3 211.0 233.0 262.1 294.3 315.9 334.6 367.3 402.8 419.3 446.4 506.2" y="0.0 0.0 -0.0 -0.0 -0.0 -0.0 0.0 -0.0 0.0 -0.0 0.0 -0.0 -0.0 -0.0 -0.0 0.0 0.0">Concentration (<tspan font-size="52.8">%</tspan>)</text>
<text transform="matrix(0.4009 -0.6173 0.7484 0.3814 1068.6 744.2)" font-family='"Liberation Serif", serif' font-size="60" font-weight="bold" stroke="#000" stroke-width="0.9" x="1.9 48.1 66.6 91.9 114.1 142.7 161.7 198.1 234.0 255.6 274.4 307.4 343.0 359.6 386.8 447.0" y="-0.1 -2.9 -4.1 -5.6 -7.0 -8.7 -9.9 -12.1 -14.3 -15.6 -16.8 -18.8 -21.0 -22.0 -23.7 -27.3">Distribution (<tspan font-size="52.8">%</tspan>)</text>
<text transform="matrix(0.8343 -0.6375 0.1816 1.0930 253.5 452.8)" font-family='"Liberation Sans", sans-serif' font-size="70" font-weight="bold" stroke="#000" stroke-width="0.6" x="0.0 38.9 62.2 105.0 132.2 175.0 217.8 256.7 299.5 342.2" y="0.0 0.0 -0.0 0.0 0.0 0.0 0.0 0.0 -0.0 0.0">1-propanol</text>
<text transform="translate(25 115.0) scale(1.05 1)" font-family='"Liberation Serif", serif' font-size="98">(a)</text>
<line x1="276.9" y1="1733.2" x2="191.6" y2="1445.7" stroke="#9a9a9a" stroke-width="0.9" stroke-dasharray="5 3"/>
<line x1="324.1" y1="1695.0" x2="252.8" y2="1401.2" stroke="#9a9a9a" stroke-width="0.9" stroke-dasharray="5 3"/>
<line x1="370.3" y1="1657.7" x2="312.3" y2="1357.9" stroke="#9a9a9a" stroke-width="0.9" stroke-dasharray="5 3"/>
<line x1="415.6" y1="1621.2" x2="370.2" y2="1315.7" stroke="#9a9a9a" stroke-width="0.9" stroke-dasharray="5 3"/>
<line x1="459.9" y1="1585.4" x2="426.6" y2="1274.7" stroke="#9a9a9a" stroke-width="0.9" stroke-dasharray="5 3"/>
<line x1="503.3" y1="1550.3" x2="481.5" y2="1234.7" stroke="#9a9a9a" stroke-width="0.9" stroke-dasharray="5 3"/>
<line x1="545.8" y1="1516.0" x2="535.0" y2="1195.7" stroke="#9a9a9a" stroke-width="0.9" stroke-dasharray="5 3"/>
<line x1="207.9" y1="1714.1" x2="587.4" y2="1414.0" stroke="#222" stroke-width="1.1" stroke-dasharray="1.2 4.5"/>
<line x1="158.5" y1="1575.3" x2="587.3" y2="1253.2" stroke="#222" stroke-width="1.1" stroke-dasharray="1.2 4.5"/>
<line x1="184.7" y1="1648.9" x2="587.3" y2="1338.1" stroke="#777" stroke-width="0.9"/>
<line x1="898.5" y1="1744.4" x2="983.8" y2="1458.8" stroke="#222" stroke-width="1.1" stroke-dasharray="1.2 4.5"/>
<line x1="856.9" y1="1709.4" x2="929.8" y2="1417.8" stroke="#666" stroke-width="0.9"/>
<line x1="816.1" y1="1675.1" x2="877.3" y2="1377.9" stroke="#222" stroke-width="1.1" stroke-dasharray="1.2 4.5"/>
<line x1="776.2" y1="1641.4" x2="825.9" y2="1339.0" stroke="#666" stroke-width="0.9"/>
<line x1="737.0" y1="1608.4" x2="775.9" y2="1301.0" stroke="#222" stroke-width="1.1" stroke-dasharray="1.2 4.5"/>
<line x1="698.5" y1="1576.0" x2="727.0" y2="1263.9" stroke="#666" stroke-width="0.9"/>
<line x1="660.8" y1="1544.2" x2="679.3" y2="1227.7" stroke="#222" stroke-width="1.1" stroke-dasharray="1.2 4.5"/>
<line x1="623.7" y1="1513.0" x2="632.7" y2="1192.3" stroke="#666" stroke-width="0.9"/>
<line x1="961.2" y1="1722.4" x2="587.4" y2="1414.0" stroke="#222" stroke-width="1.1" stroke-dasharray="1.2 4.5"/>
<line x1="1009.8" y1="1584.2" x2="587.3" y2="1253.2" stroke="#222" stroke-width="1.1" stroke-dasharray="1.2 4.5"/>
<line x1="984.0" y1="1657.5" x2="587.3" y2="1338.1" stroke="#777" stroke-width="0.9"/>
<line x1="538.1" y1="2084.7" x2="898.5" y2="1744.4" stroke="#222" stroke-width="1.1" stroke-dasharray="1.2 4.5"/>
<line x1="496.4" y1="2042.7" x2="856.9" y2="1709.4" stroke="#5a5a5a" stroke-width="0.9"/>
<line x1="455.7" y1="2001.6" x2="816.1" y2="1675.1" stroke="#222" stroke-width="1.1" stroke-dasharray="1.2 4.5"/>
<line x1="415.9" y1="1961.3" x2="776.2" y2="1641.4" stroke="#5a5a5a" stroke-width="0.9"/>
<line x1="376.8" y1="1921.9" x2="737.0" y2="1608.4" stroke="#222" stroke-width="1.1" stroke-dasharray="1.2 4.5"/>
<line x1="338.6" y1="1883.3" x2="698.5" y2="1576.0" stroke="#5a5a5a" stroke-width="0.9"/>
<line x1="301.2" y1="1845.5" x2="660.8" y2="1544.2" stroke="#222" stroke-width="1.1" stroke-dasharray="1.2 4.5"/>
<line x1="264.5" y1="1808.5" x2="623.7" y2="1513.0" stroke="#5a5a5a" stroke-width="0.9"/>
<line x1="629.4" y1="2080.6" x2="276.9" y2="1733.2" stroke="#9a9a9a" stroke-width="0.9"/>
<line x1="677.1" y1="2034.6" x2="324.1" y2="1695.0" stroke="#9a9a9a" stroke-width="0.9"/>
<line x1="723.6" y1="1989.7" x2="370.3" y2="1657.7" stroke="#9a9a9a" stroke-width="0.9"/>
<line x1="769.1" y1="1945.9" x2="415.6" y2="1621.2" stroke="#9a9a9a" stroke-width="0.9"/>
<line x1="813.5" y1="1903.0" x2="459.9" y2="1585.4" stroke="#9a9a9a" stroke-width="0.9"/>
<line x1="856.9" y1="1861.1" x2="503.3" y2="1550.3" stroke="#9a9a9a" stroke-width="0.9"/>
<line x1="899.4" y1="1820.2" x2="545.8" y2="1516.0" stroke="#9a9a9a" stroke-width="0.9"/>
<line x1="228.6" y1="1772.2" x2="128.7" y2="1491.4" stroke="#1a1a1a" stroke-width="1.3"/>
<line x1="128.7" y1="1491.4" x2="587.2" y2="1157.8" stroke="#1a1a1a" stroke-width="1.3"/>
<line x1="587.2" y1="1157.8" x2="1039.1" y2="1500.8" stroke="#1a1a1a" stroke-width="1.3"/>
<line x1="587.4" y1="1482.4" x2="587.2" y2="1157.8" stroke="#222" stroke-width="2.2"/>
<line x1="228.6" y1="1772.2" x2="587.4" y2="1482.4" stroke="#1a1a1a" stroke-width="1.3"/>
<line x1="587.4" y1="1482.4" x2="940.9" y2="1780.1" stroke="#1a1a1a" stroke-width="1.3"/>
<polygon points="863.1,1595.5 871.9,1587.6 919.4,1626.0 910.5,1634.2" fill="#0000c4" stroke="#00004c" stroke-width="1.0" stroke-linejoin="round"/>
<polygon points="831.2,1733.1 863.1,1595.5 910.5,1634.2 872.8,1768.6" fill="#0000ff" stroke="#00004c" stroke-width="1.0" stroke-linejoin="round"/>
<polygon points="872.8,1768.6 910.5,1634.2 919.4,1626.0 880.7,1761.2" fill="#5a5af0" stroke="#00004c" stroke-width="1.0" stroke-linejoin="round"/>
<line x1="877.5" y1="1763.4" x2="915.0" y2="1631.1" stroke="#00004c" stroke-width="0.9" stroke-dasharray="3.5 2.5"/>
<line x1="831.2" y1="1733.1" x2="872.8" y2="1768.6" stroke="#111" stroke-width="1.3"/>
<polygon points="903.2,1660.4 911.8,1652.4 959.2,1691.1 950.5,1699.3" fill="#0000c4" stroke="#00004c" stroke-width="1.0" stroke-linejoin="round"/>
<polygon points="872.8,1768.6 903.2,1660.4 950.5,1699.3 915.3,1804.9" fill="#0000ff" stroke="#00004c" stroke-width="1.0" stroke-linejoin="round"/>
<polygon points="915.3,1804.9 950.5,1699.3 959.2,1691.1 923.1,1797.2" fill="#5a5af0" stroke="#00004c" stroke-width="1.0" stroke-linejoin="round"/>
<line x1="920.0" y1="1799.6" x2="954.9" y2="1696.1" stroke="#00004c" stroke-width="0.9" stroke-dasharray="3.5 2.5"/>
<line x1="872.8" y1="1768.6" x2="903.2" y2="1660.4" stroke="#00004c" stroke-width="1.1" stroke-dasharray="4 2.5"/>
<line x1="872.8" y1="1768.6" x2="915.3" y2="1804.9" stroke="#111" stroke-width="1.3"/>
<polygon points="748.9,1732.0 757.0,1724.7 798.0,1760.2 789.9,1767.7" fill="#c8c81a" stroke="#505000" stroke-width="1.0" stroke-linejoin="round"/>
<polygon points="748.2,1736.6 748.9,1732.0 789.9,1767.7 789.0,1772.1" fill="#ffff00" stroke="#505000" stroke-width="1.0" stroke-linejoin="round"/>
<polygon points="789.0,1772.1 789.9,1767.7 798.0,1760.2 797.1,1764.7" fill="#ffff7a" stroke="#505000" stroke-width="1.0" stroke-linejoin="round"/>
<line x1="748.2" y1="1736.6" x2="789.0" y2="1772.1" stroke="#111" stroke-width="1.3"/>
<polygon points="821.8,1607.0 831.2,1598.7 880.1,1638.8 870.8,1647.3" fill="#c8c81a" stroke="#505000" stroke-width="1.0" stroke-linejoin="round"/>
<polygon points="789.0,1772.1 821.8,1607.0 870.8,1647.3 830.7,1808.4" fill="#ffff00" stroke="#505000" stroke-width="1.0" stroke-linejoin="round"/>
<polygon points="830.7,1808.4 870.8,1647.3 880.1,1638.8 838.8,1800.8" fill="#ffff7a" stroke="#505000" stroke-width="1.0" stroke-linejoin="round"/>
<line x1="835.4" y1="1803.2" x2="875.5" y2="1644.1" stroke="#505000" stroke-width="0.9" stroke-dasharray="3.5 2.5"/>
<line x1="789.0" y1="1772.1" x2="789.9" y2="1767.7" stroke="#505000" stroke-width="1.1" stroke-dasharray="4 2.5"/>
<line x1="789.0" y1="1772.1" x2="830.7" y2="1808.4" stroke="#111" stroke-width="1.3"/>
<polygon points="850.9,1727.3 859.6,1719.2 905.8,1758.3 897.2,1766.5" fill="#c8c81a" stroke="#505000" stroke-width="1.0" stroke-linejoin="round"/>
<polygon points="830.7,1808.4 850.9,1727.3 897.2,1766.5 873.2,1845.5" fill="#ffff00" stroke="#505000" stroke-width="1.0" stroke-linejoin="round"/>
<polygon points="873.2,1845.5 897.2,1766.5 905.8,1758.3 881.2,1837.7" fill="#ffff7a" stroke="#505000" stroke-width="1.0" stroke-linejoin="round"/>
<line x1="877.9" y1="1840.1" x2="901.6" y2="1763.2" stroke="#505000" stroke-width="0.9" stroke-dasharray="3.5 2.5"/>
<line x1="830.7" y1="1808.4" x2="850.9" y2="1727.3" stroke="#505000" stroke-width="1.1" stroke-dasharray="4 2.5"/>
<line x1="830.7" y1="1808.4" x2="873.2" y2="1845.5" stroke="#111" stroke-width="1.3"/>
<polygon points="705.7,1770.1 714.1,1762.6 755.1,1799.0 746.8,1806.6" fill="#c20062" stroke="#5c0030" stroke-width="1.0" stroke-linejoin="round"/>
<polygon points="705.1,1775.6 705.7,1770.1 746.8,1806.6 745.9,1812.0" fill="#ff0080" stroke="#5c0030" stroke-width="1.0" stroke-linejoin="round"/>
<polygon points="745.9,1812.0 746.8,1806.6 755.1,1799.0 754.2,1804.4" fill="#ff5cab" stroke="#5c0030" stroke-width="1.0" stroke-linejoin="round"/>
<line x1="705.1" y1="1775.6" x2="745.9" y2="1812.0" stroke="#111" stroke-width="1.3"/>
<polygon points="783.4,1581.4 793.5,1572.6 845.6,1615.4 835.5,1624.5" fill="#c20062" stroke="#5c0030" stroke-width="1.0" stroke-linejoin="round"/>
<polygon points="745.9,1812.0 783.4,1581.4 835.5,1624.5 787.6,1849.1" fill="#ff0080" stroke="#5c0030" stroke-width="1.0" stroke-linejoin="round"/>
<polygon points="787.6,1849.1 835.5,1624.5 845.6,1615.4 795.9,1841.3" fill="#ff5cab" stroke="#5c0030" stroke-width="1.0" stroke-linejoin="round"/>
<line x1="792.4" y1="1843.8" x2="840.8" y2="1621.1" stroke="#5c0030" stroke-width="0.9" stroke-dasharray="3.5 2.5"/>
<line x1="745.9" y1="1812.0" x2="746.8" y2="1806.6" stroke="#5c0030" stroke-width="1.1" stroke-dasharray="4 2.5"/>
<line x1="745.9" y1="1812.0" x2="787.6" y2="1849.1" stroke="#111" stroke-width="1.3"/>
<polygon points="791.2,1832.2 799.6,1824.3 842.9,1862.5 834.5,1870.6" fill="#c20062" stroke="#5c0030" stroke-width="1.0" stroke-linejoin="round"/>
<polygon points="787.6,1849.1 791.2,1832.2 834.5,1870.6 830.1,1887.0" fill="#ff0080" stroke="#5c0030" stroke-width="1.0" stroke-linejoin="round"/>
<polygon points="830.1,1887.0 834.5,1870.6 842.9,1862.5 838.4,1879.0" fill="#ff5cab" stroke="#5c0030" stroke-width="1.0" stroke-linejoin="round"/>
<line x1="834.9" y1="1881.6" x2="838.9" y2="1867.2" stroke="#5c0030" stroke-width="0.9" stroke-dasharray="3.5 2.5"/>
<line x1="787.6" y1="1849.1" x2="791.2" y2="1832.2" stroke="#5c0030" stroke-width="1.1" stroke-dasharray="4 2.5"/>
<line x1="787.6" y1="1849.1" x2="830.1" y2="1887.0" stroke="#111" stroke-width="1.3"/>
<polygon points="581.8,1738.3 590.3,1730.9 629.7,1766.6 621.2,1774.1" fill="#0cbf14" stroke="#004c00" stroke-width="1.0" stroke-linejoin="round"/>
<polygon points="581.8,1743.4 581.8,1738.3 621.2,1774.1 621.0,1779.1" fill="#00ff00" stroke="#004c00" stroke-width="1.0" stroke-linejoin="round"/>
<polygon points="621.0,1779.1 621.2,1774.1 629.7,1766.6 629.5,1771.6" fill="#6cf06c" stroke="#004c00" stroke-width="1.0" stroke-linejoin="round"/>
<line x1="581.8" y1="1743.4" x2="621.0" y2="1779.1" stroke="#111" stroke-width="1.3"/>
<polygon points="621.3,1770.3 629.8,1762.8 670.2,1799.3 661.7,1807.0" fill="#0cbf14" stroke="#004c00" stroke-width="1.0" stroke-linejoin="round"/>
<polygon points="621.0,1779.1 621.3,1770.3 661.7,1807.0 661.0,1815.6" fill="#00ff00" stroke="#004c00" stroke-width="1.0" stroke-linejoin="round"/>
<polygon points="661.0,1815.6 661.7,1807.0 670.2,1799.3 669.5,1807.9" fill="#6cf06c" stroke="#004c00" stroke-width="1.0" stroke-linejoin="round"/>
<line x1="621.0" y1="1779.1" x2="661.0" y2="1815.6" stroke="#111" stroke-width="1.3"/>
<polygon points="670.4,1691.4 679.9,1683.1 726.1,1723.4 716.6,1732.0" fill="#0cbf14" stroke="#004c00" stroke-width="1.0" stroke-linejoin="round"/>
<polygon points="661.0,1815.6 670.4,1691.4 716.6,1732.0 701.8,1852.8" fill="#00ff00" stroke="#004c00" stroke-width="1.0" stroke-linejoin="round"/>
<polygon points="701.8,1852.8 716.6,1732.0 726.1,1723.4 710.3,1844.9" fill="#6cf06c" stroke="#004c00" stroke-width="1.0" stroke-linejoin="round"/>
<line x1="706.6" y1="1847.4" x2="721.7" y2="1728.6" stroke="#004c00" stroke-width="0.9" stroke-dasharray="3.5 2.5"/>
<line x1="661.0" y1="1815.6" x2="661.7" y2="1807.0" stroke="#004c00" stroke-width="1.1" stroke-dasharray="4 2.5"/>
<line x1="661.0" y1="1815.6" x2="701.8" y2="1852.8" stroke="#111" stroke-width="1.3"/>
<polygon points="707.5,1806.7 716.3,1798.7 760.1,1837.8 751.3,1846.1" fill="#0cbf14" stroke="#004c00" stroke-width="1.0" stroke-linejoin="round"/>
<polygon points="701.8,1852.8 707.5,1806.7 751.3,1846.1 743.5,1890.7" fill="#00ff00" stroke="#004c00" stroke-width="1.0" stroke-linejoin="round"/>
<polygon points="743.5,1890.7 751.3,1846.1 760.1,1837.8 752.0,1882.7" fill="#6cf06c" stroke="#004c00" stroke-width="1.0" stroke-linejoin="round"/>
<line x1="748.4" y1="1885.3" x2="756.0" y2="1842.7" stroke="#004c00" stroke-width="0.9" stroke-dasharray="3.5 2.5"/>
<line x1="701.8" y1="1852.8" x2="707.5" y2="1806.7" stroke="#004c00" stroke-width="1.1" stroke-dasharray="4 2.5"/>
<line x1="701.8" y1="1852.8" x2="743.5" y2="1890.7" stroke="#111" stroke-width="1.3"/>
<polygon points="575.4,1776.1 584.4,1768.2 626.2,1806.5 617.2,1814.6" fill="#5a00c6" stroke="#2a0066" stroke-width="1.0" stroke-linejoin="round"/>
<polygon points="575.9,1819.2 575.4,1776.1 617.2,1814.6 615.9,1856.4" fill="#8000ff" stroke="#2a0066" stroke-width="1.0" stroke-linejoin="round"/>
<polygon points="615.9,1856.4 617.2,1814.6 626.2,1806.5 624.6,1848.6" fill="#ab66ff" stroke="#2a0066" stroke-width="1.0" stroke-linejoin="round"/>
<line x1="620.7" y1="1851.1" x2="622.1" y2="1811.3" stroke="#2a0066" stroke-width="0.9" stroke-dasharray="3.5 2.5"/>
<line x1="575.9" y1="1819.2" x2="615.9" y2="1856.4" stroke="#111" stroke-width="1.3"/>
<polygon points="619.9,1722.9 629.8,1714.3 676.6,1756.1 666.8,1764.9" fill="#5a00c6" stroke="#2a0066" stroke-width="1.0" stroke-linejoin="round"/>
<polygon points="615.9,1856.4 619.9,1722.9 666.8,1764.9 656.8,1894.4" fill="#8000ff" stroke="#2a0066" stroke-width="1.0" stroke-linejoin="round"/>
<polygon points="656.8,1894.4 666.8,1764.9 676.6,1756.1 665.4,1886.5" fill="#ab66ff" stroke="#2a0066" stroke-width="1.0" stroke-linejoin="round"/>
<line x1="661.6" y1="1889.0" x2="672.1" y2="1761.3" stroke="#2a0066" stroke-width="0.9" stroke-dasharray="3.5 2.5"/>
<line x1="615.9" y1="1856.4" x2="617.2" y2="1814.6" stroke="#2a0066" stroke-width="1.1" stroke-dasharray="4 2.5"/>
<line x1="615.9" y1="1856.4" x2="656.8" y2="1894.4" stroke="#111" stroke-width="1.3"/>
<polygon points="659.1,1864.1 668.0,1855.9 711.2,1895.5 702.3,1903.9" fill="#5a00c6" stroke="#2a0066" stroke-width="1.0" stroke-linejoin="round"/>
<polygon points="656.8,1894.4 659.1,1864.1 702.3,1903.9 698.4,1933.3" fill="#8000ff" stroke="#2a0066" stroke-width="1.0" stroke-linejoin="round"/>
<polygon points="698.4,1933.3 702.3,1903.9 711.2,1895.5 707.1,1925.1" fill="#ab66ff" stroke="#2a0066" stroke-width="1.0" stroke-linejoin="round"/>
<line x1="703.3" y1="1927.8" x2="707.0" y2="1900.3" stroke="#2a0066" stroke-width="0.9" stroke-dasharray="3.5 2.5"/>
<line x1="656.8" y1="1894.4" x2="659.1" y2="1864.1" stroke="#2a0066" stroke-width="1.1" stroke-dasharray="4 2.5"/>
<line x1="656.8" y1="1894.4" x2="698.4" y2="1933.3" stroke="#111" stroke-width="1.3"/>
<polygon points="451.4,1778.9 460.2,1771.4 498.9,1808.0 490.0,1815.7" fill="#c86400" stroke="#3a1a00" stroke-width="1.0" stroke-linejoin="round"/>
<polygon points="452.3,1786.2 451.4,1778.9 490.0,1815.7 490.7,1822.8" fill="#ff8000" stroke="#3a1a00" stroke-width="1.0" stroke-linejoin="round"/>
<polygon points="490.7,1822.8 490.0,1815.7 498.9,1808.0 499.5,1815.1" fill="#ffb566" stroke="#3a1a00" stroke-width="1.0" stroke-linejoin="round"/>
<line x1="452.3" y1="1786.2" x2="490.7" y2="1822.8" stroke="#111" stroke-width="1.3"/>
<polygon points="488.1,1797.3 497.2,1789.5 537.4,1827.4 528.3,1835.4" fill="#c86400" stroke="#3a1a00" stroke-width="1.0" stroke-linejoin="round"/>
<polygon points="490.7,1822.8 488.1,1797.3 528.3,1835.4 529.9,1860.1" fill="#ff8000" stroke="#3a1a00" stroke-width="1.0" stroke-linejoin="round"/>
<polygon points="529.9,1860.1 528.3,1835.4 537.4,1827.4 538.7,1852.2" fill="#ffb566" stroke="#3a1a00" stroke-width="1.0" stroke-linejoin="round"/>
<line x1="534.7" y1="1854.7" x2="533.4" y2="1832.1" stroke="#3a1a00" stroke-width="0.9" stroke-dasharray="3.5 2.5"/>
<line x1="490.7" y1="1822.8" x2="490.0" y2="1815.7" stroke="#3a1a00" stroke-width="1.1" stroke-dasharray="4 2.5"/>
<line x1="490.7" y1="1822.8" x2="529.9" y2="1860.1" stroke="#111" stroke-width="1.3"/>
<polygon points="521.6,1729.9 531.7,1721.3 577.3,1763.1 567.2,1771.9" fill="#c86400" stroke="#3a1a00" stroke-width="1.0" stroke-linejoin="round"/>
<polygon points="529.9,1860.1 521.6,1729.9 567.2,1771.9 569.8,1898.2" fill="#ff8000" stroke="#3a1a00" stroke-width="1.0" stroke-linejoin="round"/>
<polygon points="569.8,1898.2 567.2,1771.9 577.3,1763.1 578.7,1890.2" fill="#ffb566" stroke="#3a1a00" stroke-width="1.0" stroke-linejoin="round"/>
<line x1="574.7" y1="1892.8" x2="572.8" y2="1768.3" stroke="#3a1a00" stroke-width="0.9" stroke-dasharray="3.5 2.5"/>
<line x1="529.9" y1="1860.1" x2="528.3" y2="1835.4" stroke="#3a1a00" stroke-width="1.1" stroke-dasharray="4 2.5"/>
<line x1="529.9" y1="1860.1" x2="569.8" y2="1898.2" stroke="#111" stroke-width="1.3"/>
<polygon points="568.8,1849.9 578.1,1841.6 621.2,1881.9 611.9,1890.4" fill="#c86400" stroke="#3a1a00" stroke-width="1.0" stroke-linejoin="round"/>
<polygon points="569.8,1898.2 568.8,1849.9 611.9,1890.4 610.6,1937.1" fill="#ff8000" stroke="#3a1a00" stroke-width="1.0" stroke-linejoin="round"/>
<polygon points="610.6,1937.1 611.9,1890.4 621.2,1881.9 619.5,1928.9" fill="#ffb566" stroke="#3a1a00" stroke-width="1.0" stroke-linejoin="round"/>
<line x1="615.5" y1="1931.6" x2="617.0" y2="1886.8" stroke="#3a1a00" stroke-width="0.9" stroke-dasharray="3.5 2.5"/>
<line x1="569.8" y1="1898.2" x2="568.8" y2="1849.9" stroke="#3a1a00" stroke-width="1.1" stroke-dasharray="4 2.5"/>
<line x1="569.8" y1="1898.2" x2="610.6" y2="1937.1" stroke="#111" stroke-width="1.3"/>
<polygon points="330.4,1751.6 339.4,1744.2 376.3,1780.0 367.3,1787.5" fill="#1fb9c0" stroke="#004f55" stroke-width="1.0" stroke-linejoin="round"/>
<polygon points="331.0,1753.8 330.4,1751.6 367.3,1787.5 367.8,1789.7" fill="#00ffff" stroke="#004f55" stroke-width="1.0" stroke-linejoin="round"/>
<polygon points="367.8,1789.7 367.3,1787.5 376.3,1780.0 376.8,1782.2" fill="#86f6f6" stroke="#004f55" stroke-width="1.0" stroke-linejoin="round"/>
<line x1="331.0" y1="1753.8" x2="367.8" y2="1789.7" stroke="#111" stroke-width="1.3"/>
<polygon points="363.5,1770.7 372.7,1763.0 411.0,1800.0 401.8,1807.8" fill="#1fb9c0" stroke="#004f55" stroke-width="1.0" stroke-linejoin="round"/>
<polygon points="367.8,1789.7 363.5,1770.7 401.8,1807.8 405.3,1826.4" fill="#00ffff" stroke="#004f55" stroke-width="1.0" stroke-linejoin="round"/>
<polygon points="405.3,1826.4 401.8,1807.8 411.0,1800.0 414.3,1818.7" fill="#86f6f6" stroke="#004f55" stroke-width="1.0" stroke-linejoin="round"/>
<line x1="410.1" y1="1821.1" x2="407.0" y2="1804.6" stroke="#004f55" stroke-width="0.9" stroke-dasharray="3.5 2.5"/>
<line x1="367.8" y1="1789.7" x2="367.3" y2="1787.5" stroke="#004f55" stroke-width="1.1" stroke-dasharray="4 2.5"/>
<line x1="367.8" y1="1789.7" x2="405.3" y2="1826.4" stroke="#111" stroke-width="1.3"/>
<polygon points="399.4,1795.4 408.7,1787.5 448.2,1825.7 438.9,1833.7" fill="#1fb9c0" stroke="#004f55" stroke-width="1.0" stroke-linejoin="round"/>
<polygon points="405.3,1826.4 399.4,1795.4 438.9,1833.7 443.6,1863.8" fill="#00ffff" stroke="#004f55" stroke-width="1.0" stroke-linejoin="round"/>
<polygon points="443.6,1863.8 438.9,1833.7 448.2,1825.7 452.6,1855.9" fill="#86f6f6" stroke="#004f55" stroke-width="1.0" stroke-linejoin="round"/>
<line x1="448.4" y1="1858.4" x2="444.2" y2="1830.4" stroke="#004f55" stroke-width="0.9" stroke-dasharray="3.5 2.5"/>
<line x1="405.3" y1="1826.4" x2="401.8" y2="1807.8" stroke="#004f55" stroke-width="1.1" stroke-dasharray="4 2.5"/>
<line x1="405.3" y1="1826.4" x2="443.6" y2="1863.8" stroke="#111" stroke-width="1.3"/>
<polygon points="432.5,1793.1 442.2,1784.8 484.3,1825.0 474.5,1833.5" fill="#1fb9c0" stroke="#004f55" stroke-width="1.0" stroke-linejoin="round"/>
<polygon points="443.6,1863.8 432.5,1793.1 474.5,1833.5 482.7,1901.9" fill="#00ffff" stroke="#004f55" stroke-width="1.0" stroke-linejoin="round"/>
<polygon points="482.7,1901.9 474.5,1833.5 484.3,1825.0 491.8,1893.9" fill="#86f6f6" stroke="#004f55" stroke-width="1.0" stroke-linejoin="round"/>
<line x1="487.6" y1="1896.5" x2="480.0" y2="1830.0" stroke="#004f55" stroke-width="0.9" stroke-dasharray="3.5 2.5"/>
<line x1="443.6" y1="1863.8" x2="438.9" y2="1833.7" stroke="#004f55" stroke-width="1.1" stroke-dasharray="4 2.5"/>
<line x1="443.6" y1="1863.8" x2="482.7" y2="1901.9" stroke="#111" stroke-width="1.3"/>
<polygon points="474.6,1834.2 484.4,1825.7 527.3,1866.8 517.5,1875.4" fill="#1fb9c0" stroke="#004f55" stroke-width="1.0" stroke-linejoin="round"/>
<polygon points="482.7,1901.9 474.6,1834.2 517.5,1875.4 522.6,1940.9" fill="#00ffff" stroke="#004f55" stroke-width="1.0" stroke-linejoin="round"/>
<polygon points="522.6,1940.9 517.5,1875.4 527.3,1866.8 531.7,1932.7" fill="#86f6f6" stroke="#004f55" stroke-width="1.0" stroke-linejoin="round"/>
<line x1="527.6" y1="1935.5" x2="523.0" y2="1871.8" stroke="#004f55" stroke-width="0.9" stroke-dasharray="3.5 2.5"/>
<line x1="482.7" y1="1901.9" x2="474.6" y2="1834.2" stroke="#004f55" stroke-width="1.1" stroke-dasharray="4 2.5"/>
<line x1="482.7" y1="1901.9" x2="522.6" y2="1940.9" stroke="#111" stroke-width="1.3"/>
<polygon points="522.1,1934.4 531.3,1926.1 572.4,1966.0 563.2,1974.4" fill="#1fb9c0" stroke="#004f55" stroke-width="1.0" stroke-linejoin="round"/>
<polygon points="522.6,1940.9 522.1,1934.4 563.2,1974.4 563.4,1980.7" fill="#00ffff" stroke="#004f55" stroke-width="1.0" stroke-linejoin="round"/>
<polygon points="563.4,1980.7 563.2,1974.4 572.4,1966.0 572.5,1972.4" fill="#86f6f6" stroke="#004f55" stroke-width="1.0" stroke-linejoin="round"/>
<line x1="522.6" y1="1940.9" x2="563.4" y2="1980.7" stroke="#111" stroke-width="1.3"/>
<polygon points="245.6,1752.8 254.8,1745.4 290.9,1781.3 281.7,1788.9" fill="#8a8a8a" stroke="#222222" stroke-width="1.0" stroke-linejoin="round"/>
<polygon points="247.0,1757.3 245.6,1752.8 281.7,1788.9 283.0,1793.2" fill="#c6c6c6" stroke="#222222" stroke-width="1.0" stroke-linejoin="round"/>
<polygon points="283.0,1793.2 281.7,1788.9 290.9,1781.3 292.2,1785.7" fill="#dedede" stroke="#222222" stroke-width="1.0" stroke-linejoin="round"/>
<line x1="247.0" y1="1757.3" x2="283.0" y2="1793.2" stroke="#111" stroke-width="1.3"/>
<polygon points="273.5,1762.2 283.0,1754.5 320.7,1791.9 311.2,1799.8" fill="#8a8a8a" stroke="#222222" stroke-width="1.0" stroke-linejoin="round"/>
<polygon points="283.0,1793.2 273.5,1762.2 311.2,1799.8 319.7,1830.0" fill="#c6c6c6" stroke="#222222" stroke-width="1.0" stroke-linejoin="round"/>
<polygon points="319.7,1830.0 311.2,1799.8 320.7,1791.9 328.9,1822.2" fill="#dedede" stroke="#222222" stroke-width="1.0" stroke-linejoin="round"/>
<line x1="324.5" y1="1824.7" x2="316.8" y2="1796.5" stroke="#222222" stroke-width="0.9" stroke-dasharray="3.5 2.5"/>
<line x1="283.0" y1="1793.2" x2="281.7" y2="1788.9" stroke="#222222" stroke-width="1.1" stroke-dasharray="4 2.5"/>
<line x1="283.0" y1="1793.2" x2="319.7" y2="1830.0" stroke="#111" stroke-width="1.3"/>
<polygon points="315.1,1813.5 324.5,1805.7 362.5,1843.4 353.1,1851.4" fill="#8a8a8a" stroke="#222222" stroke-width="1.0" stroke-linejoin="round"/>
<polygon points="319.7,1830.0 315.1,1813.5 353.1,1851.4 357.2,1867.4" fill="#c6c6c6" stroke="#222222" stroke-width="1.0" stroke-linejoin="round"/>
<polygon points="357.2,1867.4 353.1,1851.4 362.5,1843.4 366.4,1859.6" fill="#dedede" stroke="#222222" stroke-width="1.0" stroke-linejoin="round"/>
<line x1="362.0" y1="1862.1" x2="358.6" y2="1848.1" stroke="#222222" stroke-width="0.9" stroke-dasharray="3.5 2.5"/>
<line x1="319.7" y1="1830.0" x2="315.1" y2="1813.5" stroke="#222222" stroke-width="1.1" stroke-dasharray="4 2.5"/>
<line x1="319.7" y1="1830.0" x2="357.2" y2="1867.4" stroke="#111" stroke-width="1.3"/>
<polygon points="343.3,1812.4 353.1,1804.2 393.5,1844.0 383.7,1852.4" fill="#8a8a8a" stroke="#222222" stroke-width="1.0" stroke-linejoin="round"/>
<polygon points="357.2,1867.4 343.3,1812.4 383.7,1852.4 395.4,1905.7" fill="#c6c6c6" stroke="#222222" stroke-width="1.0" stroke-linejoin="round"/>
<polygon points="395.4,1905.7 383.7,1852.4 393.5,1844.0 404.7,1897.7" fill="#dedede" stroke="#222222" stroke-width="1.0" stroke-linejoin="round"/>
<line x1="400.3" y1="1900.3" x2="389.4" y2="1848.9" stroke="#222222" stroke-width="0.9" stroke-dasharray="3.5 2.5"/>
<line x1="357.2" y1="1867.4" x2="353.1" y2="1851.4" stroke="#222222" stroke-width="1.1" stroke-dasharray="4 2.5"/>
<line x1="357.2" y1="1867.4" x2="395.4" y2="1905.7" stroke="#111" stroke-width="1.3"/>
<polygon points="379.5,1833.3 389.6,1824.8 431.7,1866.1 421.7,1874.8" fill="#8a8a8a" stroke="#222222" stroke-width="1.0" stroke-linejoin="round"/>
<polygon points="395.4,1905.7 379.5,1833.3 421.7,1874.8 434.5,1944.8" fill="#c6c6c6" stroke="#222222" stroke-width="1.0" stroke-linejoin="round"/>
<polygon points="434.5,1944.8 421.7,1874.8 431.7,1866.1 443.7,1936.6" fill="#dedede" stroke="#222222" stroke-width="1.0" stroke-linejoin="round"/>
<line x1="439.4" y1="1939.3" x2="427.4" y2="1871.1" stroke="#222222" stroke-width="0.9" stroke-dasharray="3.5 2.5"/>
<line x1="395.4" y1="1905.7" x2="383.7" y2="1852.4" stroke="#222222" stroke-width="1.1" stroke-dasharray="4 2.5"/>
<line x1="395.4" y1="1905.7" x2="434.5" y2="1944.8" stroke="#111" stroke-width="1.3"/>
<polygon points="432.9,1936.1 442.2,1927.8 482.5,1967.8 473.2,1976.3" fill="#8a8a8a" stroke="#222222" stroke-width="1.0" stroke-linejoin="round"/>
<polygon points="434.5,1944.8 432.9,1936.1 473.2,1976.3 474.4,1984.7" fill="#c6c6c6" stroke="#222222" stroke-width="1.0" stroke-linejoin="round"/>
<polygon points="474.4,1984.7 473.2,1976.3 482.5,1967.8 483.6,1976.3" fill="#dedede" stroke="#222222" stroke-width="1.0" stroke-linejoin="round"/>
<line x1="434.5" y1="1944.8" x2="474.4" y2="1984.7" stroke="#111" stroke-width="1.3"/>
<line x1="580.6" y1="2127.7" x2="228.6" y2="1772.2" stroke="#000" stroke-width="2.0"/>
<line x1="580.6" y1="2127.7" x2="940.9" y2="1780.1" stroke="#000" stroke-width="2.0"/>
<line x1="940.9" y1="1780.1" x2="1039.1" y2="1500.8" stroke="#000" stroke-width="2.0"/>
<line x1="557.3" y1="2150.2" x2="580.6" y2="2127.7" stroke="#000" stroke-width="1.9"/>
<line x1="473.1" y1="2064.2" x2="515.1" y2="2025.4" stroke="#000" stroke-width="1.9"/>
<line x1="392.6" y1="1982.0" x2="434.5" y2="1944.8" stroke="#000" stroke-width="1.9"/>
<line x1="315.4" y1="1903.1" x2="357.2" y2="1867.4" stroke="#000" stroke-width="1.9"/>
<line x1="241.4" y1="1827.5" x2="283.0" y2="1793.2" stroke="#000" stroke-width="1.9"/>
<line x1="538.1" y1="2084.7" x2="551.4" y2="2072.2" stroke="#000" stroke-width="1.8"/>
<line x1="455.7" y1="2001.6" x2="469.0" y2="1989.5" stroke="#000" stroke-width="1.8"/>
<line x1="376.8" y1="1921.9" x2="390.1" y2="1910.4" stroke="#000" stroke-width="1.8"/>
<line x1="301.2" y1="1845.5" x2="314.4" y2="1834.4" stroke="#000" stroke-width="1.8"/>
<line x1="593.6" y1="2140.7" x2="580.6" y2="2127.7" stroke="#000" stroke-width="1.8"/>
<line x1="642.4" y1="2093.3" x2="616.6" y2="2067.9" stroke="#000" stroke-width="1.8"/>
<line x1="690.0" y1="2047.1" x2="664.2" y2="2022.2" stroke="#000" stroke-width="1.8"/>
<line x1="736.6" y1="2001.9" x2="710.7" y2="1977.6" stroke="#000" stroke-width="1.8"/>
<line x1="782.0" y1="1957.8" x2="756.2" y2="1934.1" stroke="#000" stroke-width="1.8"/>
<line x1="826.4" y1="1914.6" x2="800.6" y2="1891.5" stroke="#000" stroke-width="1.8"/>
<line x1="869.8" y1="1872.5" x2="844.1" y2="1849.8" stroke="#000" stroke-width="1.8"/>
<line x1="912.3" y1="1831.3" x2="886.5" y2="1809.1" stroke="#000" stroke-width="1.8"/>
<line x1="940.9" y1="1780.1" x2="964.1" y2="1799.7" stroke="#000" stroke-width="1.9"/>
<line x1="984.0" y1="1657.5" x2="1010.4" y2="1678.8" stroke="#000" stroke-width="1.9"/>
<line x1="1039.1" y1="1500.8" x2="1069.6" y2="1523.9" stroke="#000" stroke-width="1.9"/>
<line x1="961.2" y1="1722.4" x2="948.5" y2="1711.9" stroke="#000" stroke-width="1.8"/>
<line x1="1009.8" y1="1584.2" x2="995.2" y2="1572.9" stroke="#000" stroke-width="1.8"/>
<text transform="matrix(0.7507 -0.6299 0.8364 0.9289 226.7 1873.3)" font-family='"Liberation Sans", sans-serif' font-size="50" font-weight="bold" stroke="#000" stroke-width="1.0" x="-5.4" y="-0.0">4</text>
<text transform="matrix(0.7507 -0.6299 0.8364 0.9289 299.8 1948.1)" font-family='"Liberation Sans", sans-serif' font-size="50" font-weight="bold" stroke="#000" stroke-width="1.0" x="-5.4" y="-0.0">3</text>
<text transform="matrix(0.7507 -0.6299 0.8364 0.9289 376.2 2028.2)" font-family='"Liberation Sans", sans-serif' font-size="50" font-weight="bold" stroke="#000" stroke-width="1.0" x="-5.4" y="-0.0">2</text>
<text transform="matrix(0.7507 -0.6299 0.8364 0.9289 456.0 2105.1)" font-family='"Liberation Sans", sans-serif' font-size="50" font-weight="bold" stroke="#000" stroke-width="1.0" x="-5.4" y="-0.0">1</text>
<text transform="matrix(0.7507 -0.6299 0.8364 0.9289 540.8 2195.2)" font-family='"Liberation Sans", sans-serif' font-size="50" font-weight="bold" stroke="#000" stroke-width="1.0" x="-5.4" y="-0.0">0</text>
<text transform="matrix(0.7283 0.6557 -0.8364 0.9289 605.2 2147.2)" font-family='"Liberation Sans", sans-serif' font-size="50" font-weight="bold" stroke="#000" stroke-width="1.0" x="2.4" y="-0.0">0</text>
<text transform="matrix(0.7283 0.6557 -0.8364 0.9289 657.5 2102.1)" font-family='"Liberation Sans", sans-serif' font-size="50" font-weight="bold" stroke="#000" stroke-width="1.0" x="2.4 35.1" y="-0.0 -0.5">10</text>
<text transform="matrix(0.7283 0.6557 -0.8364 0.9289 700.5 2054.9)" font-family='"Liberation Sans", sans-serif' font-size="50" font-weight="bold" stroke="#000" stroke-width="1.0" x="2.4 35.1" y="-0.0 -0.5">30</text>
<text transform="matrix(0.7283 0.6557 -0.8364 0.9289 745.5 2012.0)" font-family='"Liberation Sans", sans-serif' font-size="50" font-weight="bold" stroke="#000" stroke-width="1.0" x="2.4 35.1" y="-0.0 -0.5">50</text>
<text transform="matrix(0.7283 0.6557 -0.8364 0.9289 790.5 1966.3)" font-family='"Liberation Sans", sans-serif' font-size="50" font-weight="bold" stroke="#000" stroke-width="1.0" x="2.4 35.1" y="-0.0 -0.5">60</text>
<text transform="matrix(0.7283 0.6557 -0.8364 0.9289 835.0 1923.0)" font-family='"Liberation Sans", sans-serif' font-size="50" font-weight="bold" stroke="#000" stroke-width="1.0" x="2.4 35.1" y="-0.0 -0.5">70</text>
<text transform="matrix(0.7283 0.6557 -0.8364 0.9289 877.5 1880.5)" font-family='"Liberation Sans", sans-serif' font-size="50" font-weight="bold" stroke="#000" stroke-width="1.0" x="2.4 35.1" y="-0.0 -0.5">75</text>
<text transform="matrix(0.7283 0.6557 -0.8364 0.9289 919.9 1841.7)" font-family='"Liberation Sans", sans-serif' font-size="50" font-weight="bold" stroke="#000" stroke-width="1.0" x="2.4 35.1" y="-0.0 -0.5">80</text>
<text transform="matrix(0.7507 0.6299 -0.8035 0.9576 963.0 1811.7)" font-family='"Liberation Sans", sans-serif' font-size="50" font-weight="bold" stroke="#000" stroke-width="1.0" x="2.2" y="-0.0">0</text>
<text transform="matrix(0.7507 0.6299 -0.8035 0.9576 1014.5 1687.0)" font-family='"Liberation Sans", sans-serif' font-size="50" font-weight="bold" stroke="#000" stroke-width="1.0" x="2.2 34.3" y="-0.0 -0.0">50</text>
<text transform="matrix(0.7507 0.6299 -0.8035 0.9576 1083.4 1524.2)" font-family='"Liberation Sans", sans-serif' font-size="50" font-weight="bold" stroke="#000" stroke-width="1.0" x="2.2 34.3 66.5" y="-0.0 -0.0 -0.0">100</text>
<text transform="matrix(0.6036 0.6703 -0.8453 0.7348 221.6 2006.3)" font-family='"Liberation Serif", serif' font-size="60" font-weight="bold" stroke="#000" stroke-width="0.5" x="4.0 46.3 65.2 91.1 134.3 192.0" y="0.0 -0.0 0.0 -0.0 0.0 0.0"><tspan font-style="italic">L</tspan> (μm)</text>
<text transform="matrix(0.6180 -0.6628 0.7250 0.5664 725.6 2233.2)" font-family='"Liberation Serif", serif' font-size="60" font-weight="bold" stroke="#000" stroke-width="0.9" x="1.9 48.4 81.2 117.1 146.1 175.3 211.0 233.0 262.1 294.3 315.9 334.6 367.3 402.8 419.3 446.4 506.2" y="0.0 0.0 -0.0 -0.0 -0.0 -0.0 0.0 -0.0 0.0 -0.0 0.0 -0.0 -0.0 -0.0 -0.0 0.0 0.0">Concentration (<tspan font-size="52.8">%</tspan>)</text>
<text transform="matrix(0.4009 -0.6173 0.7484 0.3814 1067.2 1866.8)" font-family='"Liberation Serif", serif' font-size="60" font-weight="bold" stroke="#000" stroke-width="0.9" x="1.9 48.1 66.6 91.9 114.1 142.7 161.7 198.1 234.0 255.6 274.4 307.4 343.0 359.6 386.8 447.0" y="-0.1 -2.9 -4.1 -5.6 -7.0 -8.7 -9.9 -12.1 -14.3 -15.6 -16.8 -18.8 -21.0 -22.0 -23.7 -27.3">Distribution (<tspan font-size="52.8">%</tspan>)</text>
<text transform="matrix(0.8423 -0.6435 0.1717 1.0338 251.2 1569.3)" font-family='"Liberation Sans", sans-serif' font-size="70" font-weight="bold" stroke="#000" stroke-width="0.6" x="0.0 38.9 62.2 105.0 132.2 175.0 217.8 256.7 299.5 342.2" y="-0.0 0.0 -0.0 -0.0 -0.0 -0.0 -0.0 -0.0 0.0 -0.0">2-propanol</text>
<text transform="translate(25 1234.0) scale(1.05 1)" font-family='"Liberation Serif", serif' font-size="98">(b)</text>
</svg></body></html>
